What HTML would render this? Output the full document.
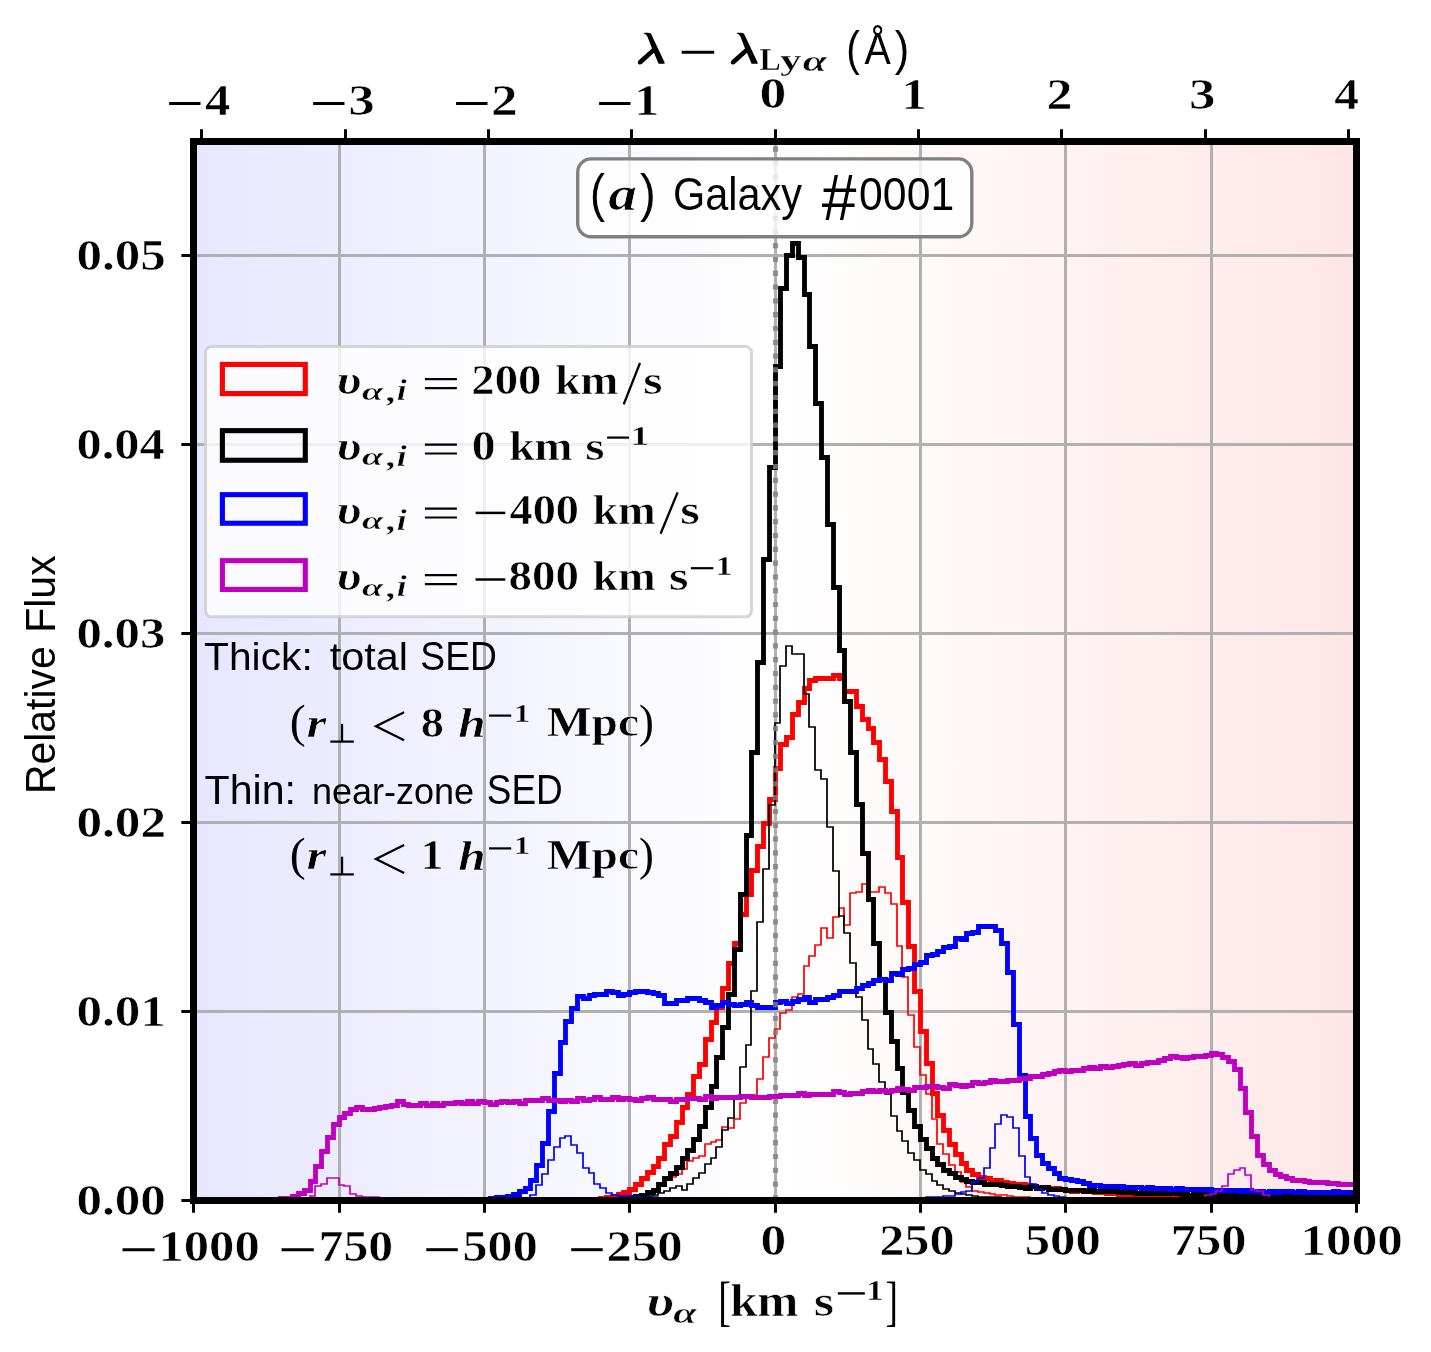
<!DOCTYPE html>
<html><head><meta charset="utf-8"><title>chart</title>
<style>html,body{margin:0;padding:0;background:#fff}svg{display:block}text{fill:#000}</style></head><body>
<svg width="1431" height="1352" viewBox="0 0 1431 1352">
<defs><linearGradient id="bg" x1="0" x2="1" y1="0" y2="0"><stop offset="0" stop-color="#e6e6ff"/><stop offset="0.5" stop-color="#ffffff"/><stop offset="1" stop-color="#ffe6e6"/></linearGradient>
<clipPath id="ax"><rect x="193.5" y="141.5" width="1163.0" height="1059.0"/></clipPath></defs>
<rect x="0" y="0" width="1431" height="1352" fill="#fff"/>
<rect x="193.5" y="141.5" width="1163.0" height="1059.0" fill="url(#bg)"/>
<path d="M339.50,141.5 V1200.5 M484.50,141.5 V1200.5 M629.50,141.5 V1200.5 M775.50,141.5 V1200.5 M920.50,141.5 V1200.5 M1065.50,141.5 V1200.5 M1211.50,141.5 V1200.5 M193.5,1011.50 H1356.5 M193.5,822.50 H1356.5 M193.5,633.50 H1356.5 M193.5,444.50 H1356.5 M193.5,255.50 H1356.5" stroke="#b0b0b0" stroke-width="3" fill="none"/>
<g clip-path="url(#ax)" fill="none" stroke-linejoin="miter" stroke-linecap="butt">
<path d="M193.50,1200.50 L193.50,1200.50 L199.50,1200.50 L199.50,1200.50 L205.50,1200.50 L205.50,1200.50 L211.50,1200.50 L211.50,1200.50 L217.50,1200.50 L217.50,1200.50 L222.50,1200.50 L222.50,1200.50 L228.50,1200.50 L228.50,1200.50 L234.50,1200.50 L234.50,1200.50 L240.50,1200.50 L240.50,1200.50 L246.50,1200.50 L246.50,1200.50 L251.50,1200.50 L251.50,1200.50 L257.50,1200.50 L257.50,1200.50 L263.50,1200.50 L263.50,1200.50 L269.50,1200.50 L269.50,1200.50 L275.50,1200.50 L275.50,1200.50 L280.50,1200.50 L280.50,1200.50 L286.50,1200.50 L286.50,1200.50 L292.50,1200.50 L292.50,1200.50 L298.50,1200.50 L298.50,1200.50 L304.50,1200.50 L304.50,1200.50 L310.50,1200.50 L310.50,1200.50 L315.50,1200.50 L315.50,1200.50 L321.50,1200.50 L321.50,1200.50 L327.50,1200.50 L327.50,1200.50 L333.50,1200.50 L333.50,1200.50 L339.50,1200.50 L339.50,1200.50 L344.50,1200.50 L344.50,1200.50 L350.50,1200.50 L350.50,1200.50 L356.50,1200.50 L356.50,1200.50 L362.50,1200.50 L362.50,1200.50 L368.50,1200.50 L368.50,1200.50 L374.50,1200.50 L374.50,1200.50 L379.50,1200.50 L379.50,1200.50 L385.50,1200.50 L385.50,1200.50 L391.50,1200.50 L391.50,1200.50 L397.50,1200.50 L397.50,1200.50 L403.50,1200.50 L403.50,1200.50 L408.50,1200.50 L408.50,1200.50 L414.50,1200.50 L414.50,1200.50 L420.50,1200.50 L420.50,1200.50 L426.50,1200.50 L426.50,1200.50 L432.50,1200.50 L432.50,1200.50 L437.50,1200.50 L437.50,1200.50 L443.50,1200.50 L443.50,1200.50 L449.50,1200.50 L449.50,1200.50 L455.50,1200.50 L455.50,1200.50 L461.50,1200.50 L461.50,1200.50 L467.50,1200.50 L467.50,1200.50 L472.50,1200.50 L472.50,1200.50 L478.50,1200.50 L478.50,1200.50 L484.50,1200.50 L484.50,1200.50 L490.50,1200.50 L490.50,1200.50 L496.50,1200.50 L496.50,1200.50 L501.50,1200.50 L501.50,1200.50 L507.50,1200.50 L507.50,1200.50 L513.50,1200.50 L513.50,1200.50 L519.50,1200.50 L519.50,1200.50 L525.50,1200.50 L525.50,1200.50 L530.50,1200.50 L530.50,1200.50 L536.50,1200.50 L536.50,1200.50 L542.50,1200.50 L542.50,1200.50 L548.50,1200.50 L548.50,1200.50 L554.50,1200.50 L554.50,1200.50 L560.50,1200.50 L560.50,1200.50 L565.50,1200.50 L565.50,1200.50 L571.50,1200.50 L571.50,1200.50 L577.50,1200.50 L577.50,1200.50 L583.50,1200.50 L583.50,1200.50 L589.50,1200.50 L589.50,1200.50 L594.50,1200.50 L594.50,1199.50 L600.50,1199.50 L600.50,1198.50 L606.50,1198.50 L606.50,1197.50 L612.50,1197.50 L612.50,1196.50 L618.50,1196.50 L618.50,1194.50 L623.50,1194.50 L623.50,1192.50 L629.50,1192.50 L629.50,1189.50 L635.50,1189.50 L635.50,1184.50 L641.50,1184.50 L641.50,1178.50 L647.50,1178.50 L647.50,1172.50 L653.50,1172.50 L653.50,1166.50 L658.50,1166.50 L658.50,1158.50 L664.50,1158.50 L664.50,1144.50 L670.50,1144.50 L670.50,1136.50 L676.50,1136.50 L676.50,1122.50 L682.50,1122.50 L682.50,1107.50 L687.50,1107.50 L687.50,1094.50 L693.50,1094.50 L693.50,1076.50 L699.50,1076.50 L699.50,1064.50 L705.50,1064.50 L705.50,1039.50 L711.50,1039.50 L711.50,1022.50 L716.50,1022.50 L716.50,1007.50 L722.50,1007.50 L722.50,988.50 L728.50,988.50 L728.50,963.50 L734.50,963.50 L734.50,943.50 L740.50,943.50 L740.50,914.50 L746.50,914.50 L746.50,894.50 L751.50,894.50 L751.50,870.50 L757.50,870.50 L757.50,846.50 L763.50,846.50 L763.50,823.50 L769.50,823.50 L769.50,799.50 L775.50,799.50 L775.50,768.50 L780.50,768.50 L780.50,744.50 L786.50,744.50 L786.50,737.50 L792.50,737.50 L792.50,714.50 L798.50,714.50 L798.50,702.50 L804.50,702.50 L804.50,688.50 L809.50,688.50 L809.50,680.50 L815.50,680.50 L815.50,678.50 L821.50,678.50 L821.50,678.50 L827.50,678.50 L827.50,678.50 L833.50,678.50 L833.50,675.50 L839.50,675.50 L839.50,678.50 L844.50,678.50 L844.50,691.50 L850.50,691.50 L850.50,691.50 L856.50,691.50 L856.50,706.50 L862.50,706.50 L862.50,719.50 L868.50,719.50 L868.50,728.50 L873.50,728.50 L873.50,742.50 L879.50,742.50 L879.50,759.50 L885.50,759.50 L885.50,781.50 L891.50,781.50 L891.50,811.50 L897.50,811.50 L897.50,857.50 L902.50,857.50 L902.50,902.50 L908.50,902.50 L908.50,946.50 L914.50,946.50 L914.50,991.50 L920.50,991.50 L920.50,1031.50 L926.50,1031.50 L926.50,1063.50 L932.50,1063.50 L932.50,1093.50 L937.50,1093.50 L937.50,1115.50 L943.50,1115.50 L943.50,1130.50 L949.50,1130.50 L949.50,1144.50 L955.50,1144.50 L955.50,1154.50 L961.50,1154.50 L961.50,1163.50 L966.50,1163.50 L966.50,1170.50 L972.50,1170.50 L972.50,1174.50 L978.50,1174.50 L978.50,1177.50 L984.50,1177.50 L984.50,1178.50 L990.50,1178.50 L990.50,1180.50 L995.50,1180.50 L995.50,1180.50 L1001.50,1180.50 L1001.50,1182.50 L1007.50,1182.50 L1007.50,1183.50 L1013.50,1183.50 L1013.50,1184.50 L1019.50,1184.50 L1019.50,1184.50 L1025.50,1184.50 L1025.50,1185.50 L1030.50,1185.50 L1030.50,1186.50 L1036.50,1186.50 L1036.50,1187.50 L1042.50,1187.50 L1042.50,1187.50 L1048.50,1187.50 L1048.50,1188.50 L1054.50,1188.50 L1054.50,1188.50 L1059.50,1188.50 L1059.50,1189.50 L1065.50,1189.50 L1065.50,1190.50 L1071.50,1190.50 L1071.50,1191.50 L1077.50,1191.50 L1077.50,1190.50 L1083.50,1190.50 L1083.50,1190.50 L1089.50,1190.50 L1089.50,1191.50 L1094.50,1191.50 L1094.50,1192.50 L1100.50,1192.50 L1100.50,1192.50 L1106.50,1192.50 L1106.50,1193.50 L1112.50,1193.50 L1112.50,1193.50 L1118.50,1193.50 L1118.50,1194.50 L1123.50,1194.50 L1123.50,1194.50 L1129.50,1194.50 L1129.50,1195.50 L1135.50,1195.50 L1135.50,1195.50 L1141.50,1195.50 L1141.50,1195.50 L1147.50,1195.50 L1147.50,1195.50 L1152.50,1195.50 L1152.50,1195.50 L1158.50,1195.50 L1158.50,1195.50 L1164.50,1195.50 L1164.50,1196.50 L1170.50,1196.50 L1170.50,1196.50 L1176.50,1196.50 L1176.50,1196.50 L1182.50,1196.50 L1182.50,1196.50 L1187.50,1196.50 L1187.50,1196.50 L1193.50,1196.50 L1193.50,1196.50 L1199.50,1196.50 L1199.50,1197.50 L1205.50,1197.50 L1205.50,1197.50 L1211.50,1197.50 L1211.50,1197.50 L1216.50,1197.50 L1216.50,1197.50 L1222.50,1197.50 L1222.50,1197.50 L1228.50,1197.50 L1228.50,1197.50 L1234.50,1197.50 L1234.50,1197.50 L1240.50,1197.50 L1240.50,1197.50 L1245.50,1197.50 L1245.50,1197.50 L1251.50,1197.50 L1251.50,1197.50 L1257.50,1197.50 L1257.50,1197.50 L1263.50,1197.50 L1263.50,1197.50 L1269.50,1197.50 L1269.50,1197.50 L1275.50,1197.50 L1275.50,1197.50 L1280.50,1197.50 L1280.50,1198.50 L1286.50,1198.50 L1286.50,1198.50 L1292.50,1198.50 L1292.50,1198.50 L1298.50,1198.50 L1298.50,1198.50 L1304.50,1198.50 L1304.50,1198.50 L1309.50,1198.50 L1309.50,1198.50 L1315.50,1198.50 L1315.50,1198.50 L1321.50,1198.50 L1321.50,1198.50 L1327.50,1198.50 L1327.50,1198.50 L1333.50,1198.50 L1333.50,1198.50 L1338.50,1198.50 L1338.50,1198.50 L1344.50,1198.50 L1344.50,1198.50 L1350.50,1198.50 L1350.50,1198.50 L1356.50,1198.50 L1356.50,1200.50" stroke="#ff0000" stroke-width="4.86"/>
<path d="M193.00,1200.00 L193.00,1200.00 L199.00,1200.00 L199.00,1200.00 L205.00,1200.00 L205.00,1200.00 L211.00,1200.00 L211.00,1200.00 L217.00,1200.00 L217.00,1200.00 L222.00,1200.00 L222.00,1200.00 L228.00,1200.00 L228.00,1200.00 L234.00,1200.00 L234.00,1200.00 L240.00,1200.00 L240.00,1200.00 L246.00,1200.00 L246.00,1200.00 L251.00,1200.00 L251.00,1200.00 L257.00,1200.00 L257.00,1200.00 L263.00,1200.00 L263.00,1200.00 L269.00,1200.00 L269.00,1200.00 L275.00,1200.00 L275.00,1200.00 L280.00,1200.00 L280.00,1200.00 L286.00,1200.00 L286.00,1200.00 L292.00,1200.00 L292.00,1200.00 L298.00,1200.00 L298.00,1200.00 L304.00,1200.00 L304.00,1200.00 L310.00,1200.00 L310.00,1200.00 L315.00,1200.00 L315.00,1200.00 L321.00,1200.00 L321.00,1200.00 L327.00,1200.00 L327.00,1200.00 L333.00,1200.00 L333.00,1200.00 L339.00,1200.00 L339.00,1200.00 L344.00,1200.00 L344.00,1200.00 L350.00,1200.00 L350.00,1200.00 L356.00,1200.00 L356.00,1200.00 L362.00,1200.00 L362.00,1200.00 L368.00,1200.00 L368.00,1200.00 L374.00,1200.00 L374.00,1200.00 L379.00,1200.00 L379.00,1200.00 L385.00,1200.00 L385.00,1200.00 L391.00,1200.00 L391.00,1200.00 L397.00,1200.00 L397.00,1200.00 L403.00,1200.00 L403.00,1200.00 L408.00,1200.00 L408.00,1200.00 L414.00,1200.00 L414.00,1200.00 L420.00,1200.00 L420.00,1200.00 L426.00,1200.00 L426.00,1200.00 L432.00,1200.00 L432.00,1200.00 L437.00,1200.00 L437.00,1200.00 L443.00,1200.00 L443.00,1200.00 L449.00,1200.00 L449.00,1200.00 L455.00,1200.00 L455.00,1200.00 L461.00,1200.00 L461.00,1200.00 L467.00,1200.00 L467.00,1200.00 L472.00,1200.00 L472.00,1200.00 L478.00,1200.00 L478.00,1200.00 L484.00,1200.00 L484.00,1200.00 L490.00,1200.00 L490.00,1200.00 L496.00,1200.00 L496.00,1200.00 L501.00,1200.00 L501.00,1200.00 L507.00,1200.00 L507.00,1200.00 L513.00,1200.00 L513.00,1200.00 L519.00,1200.00 L519.00,1200.00 L525.00,1200.00 L525.00,1200.00 L530.00,1200.00 L530.00,1200.00 L536.00,1200.00 L536.00,1200.00 L542.00,1200.00 L542.00,1200.00 L548.00,1200.00 L548.00,1200.00 L554.00,1200.00 L554.00,1200.00 L560.00,1200.00 L560.00,1200.00 L565.00,1200.00 L565.00,1200.00 L571.00,1200.00 L571.00,1200.00 L577.00,1200.00 L577.00,1200.00 L583.00,1200.00 L583.00,1200.00 L589.00,1200.00 L589.00,1200.00 L594.00,1200.00 L594.00,1200.00 L600.00,1200.00 L600.00,1200.00 L606.00,1200.00 L606.00,1200.00 L612.00,1200.00 L612.00,1199.00 L618.00,1199.00 L618.00,1199.00 L623.00,1199.00 L623.00,1198.00 L629.00,1198.00 L629.00,1197.00 L635.00,1197.00 L635.00,1196.00 L641.00,1196.00 L641.00,1195.00 L647.00,1195.00 L647.00,1191.00 L653.00,1191.00 L653.00,1189.00 L658.00,1189.00 L658.00,1184.00 L664.00,1184.00 L664.00,1180.00 L670.00,1180.00 L670.00,1177.00 L676.00,1177.00 L676.00,1174.00 L682.00,1174.00 L682.00,1169.00 L687.00,1169.00 L687.00,1161.00 L693.00,1161.00 L693.00,1158.00 L699.00,1158.00 L699.00,1156.00 L705.00,1156.00 L705.00,1144.00 L711.00,1144.00 L711.00,1142.00 L716.00,1142.00 L716.00,1140.00 L722.00,1140.00 L722.00,1127.00 L728.00,1127.00 L728.00,1128.00 L734.00,1128.00 L734.00,1119.00 L740.00,1119.00 L740.00,1103.00 L746.00,1103.00 L746.00,1097.00 L751.00,1097.00 L751.00,1095.00 L757.00,1095.00 L757.00,1079.00 L763.00,1079.00 L763.00,1057.00 L769.00,1057.00 L769.00,1038.00 L775.00,1038.00 L775.00,1029.00 L780.00,1029.00 L780.00,1013.00 L786.00,1013.00 L786.00,1010.00 L792.00,1010.00 L792.00,997.00 L798.00,997.00 L798.00,994.00 L804.00,994.00 L804.00,966.00 L809.00,966.00 L809.00,956.00 L815.00,956.00 L815.00,945.00 L821.00,945.00 L821.00,928.00 L827.00,928.00 L827.00,938.00 L833.00,938.00 L833.00,917.00 L839.00,917.00 L839.00,908.00 L844.00,908.00 L844.00,925.00 L850.00,925.00 L850.00,893.00 L856.00,893.00 L856.00,892.00 L862.00,892.00 L862.00,884.00 L868.00,884.00 L868.00,892.00 L873.00,892.00 L873.00,892.00 L879.00,892.00 L879.00,887.00 L885.00,887.00 L885.00,893.00 L891.00,893.00 L891.00,904.00 L897.00,904.00 L897.00,946.00 L902.00,946.00 L902.00,977.00 L908.00,977.00 L908.00,1015.00 L914.00,1015.00 L914.00,1047.00 L920.00,1047.00 L920.00,1075.00 L926.00,1075.00 L926.00,1094.00 L932.00,1094.00 L932.00,1119.00 L937.00,1119.00 L937.00,1144.00 L943.00,1144.00 L943.00,1154.00 L949.00,1154.00 L949.00,1165.00 L955.00,1165.00 L955.00,1172.00 L961.00,1172.00 L961.00,1182.00 L966.00,1182.00 L966.00,1187.00 L972.00,1187.00 L972.00,1191.00 L978.00,1191.00 L978.00,1192.00 L984.00,1192.00 L984.00,1193.00 L990.00,1193.00 L990.00,1194.00 L995.00,1194.00 L995.00,1195.00 L1001.00,1195.00 L1001.00,1195.00 L1007.00,1195.00 L1007.00,1196.00 L1013.00,1196.00 L1013.00,1197.00 L1019.00,1197.00 L1019.00,1197.00 L1025.00,1197.00 L1025.00,1197.00 L1030.00,1197.00 L1030.00,1198.00 L1036.00,1198.00 L1036.00,1198.00 L1042.00,1198.00 L1042.00,1198.00 L1048.00,1198.00 L1048.00,1199.00 L1054.00,1199.00 L1054.00,1199.00 L1059.00,1199.00 L1059.00,1199.00 L1065.00,1199.00 L1065.00,1199.00 L1071.00,1199.00 L1071.00,1200.00 L1077.00,1200.00 L1077.00,1200.00 L1083.00,1200.00 L1083.00,1200.00 L1089.00,1200.00 L1089.00,1200.00 L1094.00,1200.00 L1094.00,1200.00 L1100.00,1200.00 L1100.00,1200.00 L1106.00,1200.00 L1106.00,1200.00 L1112.00,1200.00 L1112.00,1200.00 L1118.00,1200.00 L1118.00,1200.00 L1123.00,1200.00 L1123.00,1200.00 L1129.00,1200.00 L1129.00,1200.00 L1135.00,1200.00 L1135.00,1200.00 L1141.00,1200.00 L1141.00,1200.00 L1147.00,1200.00 L1147.00,1200.00 L1152.00,1200.00 L1152.00,1200.00 L1158.00,1200.00 L1158.00,1200.00 L1164.00,1200.00 L1164.00,1200.00 L1170.00,1200.00 L1170.00,1200.00 L1176.00,1200.00 L1176.00,1200.00 L1182.00,1200.00 L1182.00,1200.00 L1187.00,1200.00 L1187.00,1200.00 L1193.00,1200.00 L1193.00,1200.00 L1199.00,1200.00 L1199.00,1200.00 L1205.00,1200.00 L1205.00,1200.00 L1211.00,1200.00 L1211.00,1200.00 L1216.00,1200.00 L1216.00,1200.00 L1222.00,1200.00 L1222.00,1200.00 L1228.00,1200.00 L1228.00,1200.00 L1234.00,1200.00 L1234.00,1200.00 L1240.00,1200.00 L1240.00,1200.00 L1245.00,1200.00 L1245.00,1200.00 L1251.00,1200.00 L1251.00,1200.00 L1257.00,1200.00 L1257.00,1200.00 L1263.00,1200.00 L1263.00,1200.00 L1269.00,1200.00 L1269.00,1200.00 L1275.00,1200.00 L1275.00,1200.00 L1280.00,1200.00 L1280.00,1200.00 L1286.00,1200.00 L1286.00,1200.00 L1292.00,1200.00 L1292.00,1200.00 L1298.00,1200.00 L1298.00,1200.00 L1304.00,1200.00 L1304.00,1200.00 L1309.00,1200.00 L1309.00,1200.00 L1315.00,1200.00 L1315.00,1200.00 L1321.00,1200.00 L1321.00,1200.00 L1327.00,1200.00 L1327.00,1200.00 L1333.00,1200.00 L1333.00,1200.00 L1338.00,1200.00 L1338.00,1200.00 L1344.00,1200.00 L1344.00,1200.00 L1350.00,1200.00 L1350.00,1200.00 L1356.00,1200.00 L1356.00,1200.00" stroke="#ff0000" stroke-width="1.74"/>
<path d="M193.50,1200.50 L193.50,1200.50 L199.50,1200.50 L199.50,1200.50 L205.50,1200.50 L205.50,1200.50 L211.50,1200.50 L211.50,1200.50 L217.50,1200.50 L217.50,1200.50 L222.50,1200.50 L222.50,1200.50 L228.50,1200.50 L228.50,1200.50 L234.50,1200.50 L234.50,1200.50 L240.50,1200.50 L240.50,1200.50 L246.50,1200.50 L246.50,1200.50 L251.50,1200.50 L251.50,1200.50 L257.50,1200.50 L257.50,1200.50 L263.50,1200.50 L263.50,1200.50 L269.50,1200.50 L269.50,1200.50 L275.50,1200.50 L275.50,1200.50 L280.50,1200.50 L280.50,1200.50 L286.50,1200.50 L286.50,1200.50 L292.50,1200.50 L292.50,1200.50 L298.50,1200.50 L298.50,1200.50 L304.50,1200.50 L304.50,1200.50 L310.50,1200.50 L310.50,1200.50 L315.50,1200.50 L315.50,1200.50 L321.50,1200.50 L321.50,1200.50 L327.50,1200.50 L327.50,1200.50 L333.50,1200.50 L333.50,1200.50 L339.50,1200.50 L339.50,1200.50 L344.50,1200.50 L344.50,1200.50 L350.50,1200.50 L350.50,1200.50 L356.50,1200.50 L356.50,1200.50 L362.50,1200.50 L362.50,1200.50 L368.50,1200.50 L368.50,1200.50 L374.50,1200.50 L374.50,1200.50 L379.50,1200.50 L379.50,1200.50 L385.50,1200.50 L385.50,1200.50 L391.50,1200.50 L391.50,1200.50 L397.50,1200.50 L397.50,1200.50 L403.50,1200.50 L403.50,1200.50 L408.50,1200.50 L408.50,1200.50 L414.50,1200.50 L414.50,1200.50 L420.50,1200.50 L420.50,1200.50 L426.50,1200.50 L426.50,1200.50 L432.50,1200.50 L432.50,1200.50 L437.50,1200.50 L437.50,1200.50 L443.50,1200.50 L443.50,1200.50 L449.50,1200.50 L449.50,1200.50 L455.50,1200.50 L455.50,1200.50 L461.50,1200.50 L461.50,1200.50 L467.50,1200.50 L467.50,1200.50 L472.50,1200.50 L472.50,1200.50 L478.50,1200.50 L478.50,1200.50 L484.50,1200.50 L484.50,1200.50 L490.50,1200.50 L490.50,1200.50 L496.50,1200.50 L496.50,1200.50 L501.50,1200.50 L501.50,1200.50 L507.50,1200.50 L507.50,1200.50 L513.50,1200.50 L513.50,1200.50 L519.50,1200.50 L519.50,1200.50 L525.50,1200.50 L525.50,1200.50 L530.50,1200.50 L530.50,1200.50 L536.50,1200.50 L536.50,1200.50 L542.50,1200.50 L542.50,1200.50 L548.50,1200.50 L548.50,1200.50 L554.50,1200.50 L554.50,1200.50 L560.50,1200.50 L560.50,1200.50 L565.50,1200.50 L565.50,1200.50 L571.50,1200.50 L571.50,1200.50 L577.50,1200.50 L577.50,1200.50 L583.50,1200.50 L583.50,1200.50 L589.50,1200.50 L589.50,1200.50 L594.50,1200.50 L594.50,1200.50 L600.50,1200.50 L600.50,1200.50 L606.50,1200.50 L606.50,1200.50 L612.50,1200.50 L612.50,1199.50 L618.50,1199.50 L618.50,1199.50 L623.50,1199.50 L623.50,1198.50 L629.50,1198.50 L629.50,1197.50 L635.50,1197.50 L635.50,1196.50 L641.50,1196.50 L641.50,1195.50 L647.50,1195.50 L647.50,1192.50 L653.50,1192.50 L653.50,1190.50 L658.50,1190.50 L658.50,1184.50 L664.50,1184.50 L664.50,1178.50 L670.50,1178.50 L670.50,1173.50 L676.50,1173.50 L676.50,1167.50 L682.50,1167.50 L682.50,1158.50 L687.50,1158.50 L687.50,1150.50 L693.50,1150.50 L693.50,1139.50 L699.50,1139.50 L699.50,1126.50 L705.50,1126.50 L705.50,1107.50 L711.50,1107.50 L711.50,1086.50 L716.50,1086.50 L716.50,1057.50 L722.50,1057.50 L722.50,1027.50 L728.50,1027.50 L728.50,994.50 L734.50,994.50 L734.50,949.50 L740.50,949.50 L740.50,894.50 L746.50,894.50 L746.50,835.50 L751.50,835.50 L751.50,752.50 L757.50,752.50 L757.50,662.50 L763.50,662.50 L763.50,559.50 L769.50,559.50 L769.50,467.50 L775.50,467.50 L775.50,366.50 L780.50,366.50 L780.50,288.50 L786.50,288.50 L786.50,255.50 L792.50,255.50 L792.50,243.50 L798.50,243.50 L798.50,257.50 L804.50,257.50 L804.50,294.50 L809.50,294.50 L809.50,346.50 L815.50,346.50 L815.50,403.50 L821.50,403.50 L821.50,457.50 L827.50,457.50 L827.50,524.50 L833.50,524.50 L833.50,587.50 L839.50,587.50 L839.50,650.50 L844.50,650.50 L844.50,701.50 L850.50,701.50 L850.50,752.50 L856.50,752.50 L856.50,804.50 L862.50,804.50 L862.50,853.50 L868.50,853.50 L868.50,899.50 L873.50,899.50 L873.50,943.50 L879.50,943.50 L879.50,979.50 L885.50,979.50 L885.50,1012.50 L891.50,1012.50 L891.50,1041.50 L897.50,1041.50 L897.50,1068.50 L902.50,1068.50 L902.50,1092.50 L908.50,1092.50 L908.50,1110.50 L914.50,1110.50 L914.50,1126.50 L920.50,1126.50 L920.50,1139.50 L926.50,1139.50 L926.50,1148.50 L932.50,1148.50 L932.50,1158.50 L937.50,1158.50 L937.50,1164.50 L943.50,1164.50 L943.50,1170.50 L949.50,1170.50 L949.50,1173.50 L955.50,1173.50 L955.50,1177.50 L961.50,1177.50 L961.50,1179.50 L966.50,1179.50 L966.50,1181.50 L972.50,1181.50 L972.50,1182.50 L978.50,1182.50 L978.50,1182.50 L984.50,1182.50 L984.50,1184.50 L990.50,1184.50 L990.50,1184.50 L995.50,1184.50 L995.50,1184.50 L1001.50,1184.50 L1001.50,1185.50 L1007.50,1185.50 L1007.50,1186.50 L1013.50,1186.50 L1013.50,1186.50 L1019.50,1186.50 L1019.50,1187.50 L1025.50,1187.50 L1025.50,1188.50 L1030.50,1188.50 L1030.50,1186.50 L1036.50,1186.50 L1036.50,1188.50 L1042.50,1188.50 L1042.50,1187.50 L1048.50,1187.50 L1048.50,1189.50 L1054.50,1189.50 L1054.50,1189.50 L1059.50,1189.50 L1059.50,1189.50 L1065.50,1189.50 L1065.50,1190.50 L1071.50,1190.50 L1071.50,1190.50 L1077.50,1190.50 L1077.50,1190.50 L1083.50,1190.50 L1083.50,1191.50 L1089.50,1191.50 L1089.50,1190.50 L1094.50,1190.50 L1094.50,1191.50 L1100.50,1191.50 L1100.50,1191.50 L1106.50,1191.50 L1106.50,1191.50 L1112.50,1191.50 L1112.50,1191.50 L1118.50,1191.50 L1118.50,1192.50 L1123.50,1192.50 L1123.50,1192.50 L1129.50,1192.50 L1129.50,1192.50 L1135.50,1192.50 L1135.50,1193.50 L1141.50,1193.50 L1141.50,1193.50 L1147.50,1193.50 L1147.50,1193.50 L1152.50,1193.50 L1152.50,1193.50 L1158.50,1193.50 L1158.50,1193.50 L1164.50,1193.50 L1164.50,1193.50 L1170.50,1193.50 L1170.50,1192.50 L1176.50,1192.50 L1176.50,1193.50 L1182.50,1193.50 L1182.50,1194.50 L1187.50,1194.50 L1187.50,1195.50 L1193.50,1195.50 L1193.50,1194.50 L1199.50,1194.50 L1199.50,1194.50 L1205.50,1194.50 L1205.50,1194.50 L1211.50,1194.50 L1211.50,1194.50 L1216.50,1194.50 L1216.50,1194.50 L1222.50,1194.50 L1222.50,1194.50 L1228.50,1194.50 L1228.50,1194.50 L1234.50,1194.50 L1234.50,1194.50 L1240.50,1194.50 L1240.50,1194.50 L1245.50,1194.50 L1245.50,1194.50 L1251.50,1194.50 L1251.50,1194.50 L1257.50,1194.50 L1257.50,1194.50 L1263.50,1194.50 L1263.50,1195.50 L1269.50,1195.50 L1269.50,1195.50 L1275.50,1195.50 L1275.50,1195.50 L1280.50,1195.50 L1280.50,1195.50 L1286.50,1195.50 L1286.50,1195.50 L1292.50,1195.50 L1292.50,1195.50 L1298.50,1195.50 L1298.50,1195.50 L1304.50,1195.50 L1304.50,1195.50 L1309.50,1195.50 L1309.50,1195.50 L1315.50,1195.50 L1315.50,1195.50 L1321.50,1195.50 L1321.50,1195.50 L1327.50,1195.50 L1327.50,1195.50 L1333.50,1195.50 L1333.50,1195.50 L1338.50,1195.50 L1338.50,1195.50 L1344.50,1195.50 L1344.50,1195.50 L1350.50,1195.50 L1350.50,1195.50 L1356.50,1195.50 L1356.50,1200.50" stroke="#000000" stroke-width="4.86"/>
<path d="M193.00,1200.00 L193.00,1200.00 L199.00,1200.00 L199.00,1200.00 L205.00,1200.00 L205.00,1200.00 L211.00,1200.00 L211.00,1200.00 L217.00,1200.00 L217.00,1200.00 L222.00,1200.00 L222.00,1200.00 L228.00,1200.00 L228.00,1200.00 L234.00,1200.00 L234.00,1200.00 L240.00,1200.00 L240.00,1200.00 L246.00,1200.00 L246.00,1200.00 L251.00,1200.00 L251.00,1200.00 L257.00,1200.00 L257.00,1200.00 L263.00,1200.00 L263.00,1200.00 L269.00,1200.00 L269.00,1200.00 L275.00,1200.00 L275.00,1200.00 L280.00,1200.00 L280.00,1200.00 L286.00,1200.00 L286.00,1200.00 L292.00,1200.00 L292.00,1200.00 L298.00,1200.00 L298.00,1200.00 L304.00,1200.00 L304.00,1200.00 L310.00,1200.00 L310.00,1200.00 L315.00,1200.00 L315.00,1200.00 L321.00,1200.00 L321.00,1200.00 L327.00,1200.00 L327.00,1200.00 L333.00,1200.00 L333.00,1200.00 L339.00,1200.00 L339.00,1200.00 L344.00,1200.00 L344.00,1200.00 L350.00,1200.00 L350.00,1200.00 L356.00,1200.00 L356.00,1200.00 L362.00,1200.00 L362.00,1200.00 L368.00,1200.00 L368.00,1200.00 L374.00,1200.00 L374.00,1200.00 L379.00,1200.00 L379.00,1200.00 L385.00,1200.00 L385.00,1200.00 L391.00,1200.00 L391.00,1200.00 L397.00,1200.00 L397.00,1200.00 L403.00,1200.00 L403.00,1200.00 L408.00,1200.00 L408.00,1200.00 L414.00,1200.00 L414.00,1200.00 L420.00,1200.00 L420.00,1200.00 L426.00,1200.00 L426.00,1200.00 L432.00,1200.00 L432.00,1200.00 L437.00,1200.00 L437.00,1200.00 L443.00,1200.00 L443.00,1200.00 L449.00,1200.00 L449.00,1200.00 L455.00,1200.00 L455.00,1200.00 L461.00,1200.00 L461.00,1200.00 L467.00,1200.00 L467.00,1200.00 L472.00,1200.00 L472.00,1200.00 L478.00,1200.00 L478.00,1200.00 L484.00,1200.00 L484.00,1200.00 L490.00,1200.00 L490.00,1200.00 L496.00,1200.00 L496.00,1200.00 L501.00,1200.00 L501.00,1200.00 L507.00,1200.00 L507.00,1200.00 L513.00,1200.00 L513.00,1200.00 L519.00,1200.00 L519.00,1200.00 L525.00,1200.00 L525.00,1200.00 L530.00,1200.00 L530.00,1200.00 L536.00,1200.00 L536.00,1200.00 L542.00,1200.00 L542.00,1200.00 L548.00,1200.00 L548.00,1200.00 L554.00,1200.00 L554.00,1200.00 L560.00,1200.00 L560.00,1200.00 L565.00,1200.00 L565.00,1200.00 L571.00,1200.00 L571.00,1200.00 L577.00,1200.00 L577.00,1200.00 L583.00,1200.00 L583.00,1200.00 L589.00,1200.00 L589.00,1200.00 L594.00,1200.00 L594.00,1200.00 L600.00,1200.00 L600.00,1200.00 L606.00,1200.00 L606.00,1200.00 L612.00,1200.00 L612.00,1200.00 L618.00,1200.00 L618.00,1199.00 L623.00,1199.00 L623.00,1199.00 L629.00,1199.00 L629.00,1198.00 L635.00,1198.00 L635.00,1197.00 L641.00,1197.00 L641.00,1197.00 L647.00,1197.00 L647.00,1196.00 L653.00,1196.00 L653.00,1195.00 L658.00,1195.00 L658.00,1193.00 L664.00,1193.00 L664.00,1191.00 L670.00,1191.00 L670.00,1188.00 L676.00,1188.00 L676.00,1186.00 L682.00,1186.00 L682.00,1190.00 L687.00,1190.00 L687.00,1184.00 L693.00,1184.00 L693.00,1178.00 L699.00,1178.00 L699.00,1173.00 L705.00,1173.00 L705.00,1164.00 L711.00,1164.00 L711.00,1158.00 L716.00,1158.00 L716.00,1147.00 L722.00,1147.00 L722.00,1130.00 L728.00,1130.00 L728.00,1118.00 L734.00,1118.00 L734.00,1099.00 L740.00,1099.00 L740.00,1067.00 L746.00,1067.00 L746.00,1045.00 L751.00,1045.00 L751.00,991.00 L757.00,991.00 L757.00,922.00 L763.00,922.00 L763.00,869.00 L769.00,869.00 L769.00,805.00 L775.00,805.00 L775.00,723.00 L780.00,723.00 L780.00,666.00 L786.00,666.00 L786.00,646.00 L792.00,646.00 L792.00,654.00 L798.00,654.00 L798.00,654.00 L804.00,654.00 L804.00,694.00 L809.00,694.00 L809.00,727.00 L815.00,727.00 L815.00,770.00 L821.00,770.00 L821.00,779.00 L827.00,779.00 L827.00,827.00 L833.00,827.00 L833.00,871.00 L839.00,871.00 L839.00,916.00 L844.00,916.00 L844.00,933.00 L850.00,933.00 L850.00,963.00 L856.00,963.00 L856.00,997.00 L862.00,997.00 L862.00,1020.00 L868.00,1020.00 L868.00,1049.00 L873.00,1049.00 L873.00,1064.00 L879.00,1064.00 L879.00,1082.00 L885.00,1082.00 L885.00,1094.00 L891.00,1094.00 L891.00,1116.00 L897.00,1116.00 L897.00,1131.00 L902.00,1131.00 L902.00,1141.00 L908.00,1141.00 L908.00,1153.00 L914.00,1153.00 L914.00,1160.00 L920.00,1160.00 L920.00,1170.00 L926.00,1170.00 L926.00,1174.00 L932.00,1174.00 L932.00,1181.00 L937.00,1181.00 L937.00,1185.00 L943.00,1185.00 L943.00,1189.00 L949.00,1189.00 L949.00,1191.00 L955.00,1191.00 L955.00,1193.00 L961.00,1193.00 L961.00,1194.00 L966.00,1194.00 L966.00,1195.00 L972.00,1195.00 L972.00,1196.00 L978.00,1196.00 L978.00,1197.00 L984.00,1197.00 L984.00,1197.00 L990.00,1197.00 L990.00,1197.00 L995.00,1197.00 L995.00,1197.00 L1001.00,1197.00 L1001.00,1198.00 L1007.00,1198.00 L1007.00,1198.00 L1013.00,1198.00 L1013.00,1198.00 L1019.00,1198.00 L1019.00,1198.00 L1025.00,1198.00 L1025.00,1198.00 L1030.00,1198.00 L1030.00,1199.00 L1036.00,1199.00 L1036.00,1199.00 L1042.00,1199.00 L1042.00,1199.00 L1048.00,1199.00 L1048.00,1199.00 L1054.00,1199.00 L1054.00,1199.00 L1059.00,1199.00 L1059.00,1199.00 L1065.00,1199.00 L1065.00,1199.00 L1071.00,1199.00 L1071.00,1199.00 L1077.00,1199.00 L1077.00,1199.00 L1083.00,1199.00 L1083.00,1199.00 L1089.00,1199.00 L1089.00,1200.00 L1094.00,1200.00 L1094.00,1200.00 L1100.00,1200.00 L1100.00,1200.00 L1106.00,1200.00 L1106.00,1200.00 L1112.00,1200.00 L1112.00,1200.00 L1118.00,1200.00 L1118.00,1200.00 L1123.00,1200.00 L1123.00,1200.00 L1129.00,1200.00 L1129.00,1200.00 L1135.00,1200.00 L1135.00,1200.00 L1141.00,1200.00 L1141.00,1200.00 L1147.00,1200.00 L1147.00,1200.00 L1152.00,1200.00 L1152.00,1200.00 L1158.00,1200.00 L1158.00,1200.00 L1164.00,1200.00 L1164.00,1200.00 L1170.00,1200.00 L1170.00,1200.00 L1176.00,1200.00 L1176.00,1200.00 L1182.00,1200.00 L1182.00,1200.00 L1187.00,1200.00 L1187.00,1200.00 L1193.00,1200.00 L1193.00,1200.00 L1199.00,1200.00 L1199.00,1200.00 L1205.00,1200.00 L1205.00,1200.00 L1211.00,1200.00 L1211.00,1200.00 L1216.00,1200.00 L1216.00,1200.00 L1222.00,1200.00 L1222.00,1200.00 L1228.00,1200.00 L1228.00,1200.00 L1234.00,1200.00 L1234.00,1200.00 L1240.00,1200.00 L1240.00,1200.00 L1245.00,1200.00 L1245.00,1200.00 L1251.00,1200.00 L1251.00,1200.00 L1257.00,1200.00 L1257.00,1200.00 L1263.00,1200.00 L1263.00,1200.00 L1269.00,1200.00 L1269.00,1200.00 L1275.00,1200.00 L1275.00,1200.00 L1280.00,1200.00 L1280.00,1200.00 L1286.00,1200.00 L1286.00,1200.00 L1292.00,1200.00 L1292.00,1200.00 L1298.00,1200.00 L1298.00,1200.00 L1304.00,1200.00 L1304.00,1200.00 L1309.00,1200.00 L1309.00,1200.00 L1315.00,1200.00 L1315.00,1200.00 L1321.00,1200.00 L1321.00,1200.00 L1327.00,1200.00 L1327.00,1200.00 L1333.00,1200.00 L1333.00,1200.00 L1338.00,1200.00 L1338.00,1200.00 L1344.00,1200.00 L1344.00,1200.00 L1350.00,1200.00 L1350.00,1200.00 L1356.00,1200.00 L1356.00,1200.00" stroke="#000000" stroke-width="1.74"/>
<path d="M193.50,1200.50 L193.50,1200.50 L199.50,1200.50 L199.50,1200.50 L205.50,1200.50 L205.50,1200.50 L211.50,1200.50 L211.50,1200.50 L217.50,1200.50 L217.50,1200.50 L222.50,1200.50 L222.50,1200.50 L228.50,1200.50 L228.50,1200.50 L234.50,1200.50 L234.50,1200.50 L240.50,1200.50 L240.50,1200.50 L246.50,1200.50 L246.50,1200.50 L251.50,1200.50 L251.50,1200.50 L257.50,1200.50 L257.50,1200.50 L263.50,1200.50 L263.50,1200.50 L269.50,1200.50 L269.50,1200.50 L275.50,1200.50 L275.50,1200.50 L280.50,1200.50 L280.50,1200.50 L286.50,1200.50 L286.50,1200.50 L292.50,1200.50 L292.50,1200.50 L298.50,1200.50 L298.50,1200.50 L304.50,1200.50 L304.50,1200.50 L310.50,1200.50 L310.50,1200.50 L315.50,1200.50 L315.50,1200.50 L321.50,1200.50 L321.50,1200.50 L327.50,1200.50 L327.50,1200.50 L333.50,1200.50 L333.50,1200.50 L339.50,1200.50 L339.50,1200.50 L344.50,1200.50 L344.50,1200.50 L350.50,1200.50 L350.50,1200.50 L356.50,1200.50 L356.50,1200.50 L362.50,1200.50 L362.50,1200.50 L368.50,1200.50 L368.50,1200.50 L374.50,1200.50 L374.50,1200.50 L379.50,1200.50 L379.50,1200.50 L385.50,1200.50 L385.50,1200.50 L391.50,1200.50 L391.50,1200.50 L397.50,1200.50 L397.50,1200.50 L403.50,1200.50 L403.50,1200.50 L408.50,1200.50 L408.50,1200.50 L414.50,1200.50 L414.50,1200.50 L420.50,1200.50 L420.50,1200.50 L426.50,1200.50 L426.50,1200.50 L432.50,1200.50 L432.50,1200.50 L437.50,1200.50 L437.50,1200.50 L443.50,1200.50 L443.50,1200.50 L449.50,1200.50 L449.50,1200.50 L455.50,1200.50 L455.50,1200.50 L461.50,1200.50 L461.50,1200.50 L467.50,1200.50 L467.50,1200.50 L472.50,1200.50 L472.50,1200.50 L478.50,1200.50 L478.50,1199.50 L484.50,1199.50 L484.50,1199.50 L490.50,1199.50 L490.50,1198.50 L496.50,1198.50 L496.50,1197.50 L501.50,1197.50 L501.50,1197.50 L507.50,1197.50 L507.50,1196.50 L513.50,1196.50 L513.50,1194.50 L519.50,1194.50 L519.50,1191.50 L525.50,1191.50 L525.50,1188.50 L530.50,1188.50 L530.50,1180.50 L536.50,1180.50 L536.50,1165.50 L542.50,1165.50 L542.50,1143.50 L548.50,1143.50 L548.50,1111.50 L554.50,1111.50 L554.50,1073.50 L560.50,1073.50 L560.50,1042.50 L565.50,1042.50 L565.50,1021.50 L571.50,1021.50 L571.50,1008.50 L577.50,1008.50 L577.50,996.50 L583.50,996.50 L583.50,998.50 L589.50,998.50 L589.50,995.50 L594.50,995.50 L594.50,994.50 L600.50,994.50 L600.50,994.50 L606.50,994.50 L606.50,991.50 L612.50,991.50 L612.50,992.50 L618.50,992.50 L618.50,995.50 L623.50,995.50 L623.50,994.50 L629.50,994.50 L629.50,992.50 L635.50,992.50 L635.50,991.50 L641.50,991.50 L641.50,991.50 L647.50,991.50 L647.50,992.50 L653.50,992.50 L653.50,993.50 L658.50,993.50 L658.50,995.50 L664.50,995.50 L664.50,1003.50 L670.50,1003.50 L670.50,1003.50 L676.50,1003.50 L676.50,1000.50 L682.50,1000.50 L682.50,1000.50 L687.50,1000.50 L687.50,998.50 L693.50,998.50 L693.50,998.50 L699.50,998.50 L699.50,1000.50 L705.50,1000.50 L705.50,1002.50 L711.50,1002.50 L711.50,1007.50 L716.50,1007.50 L716.50,1005.50 L722.50,1005.50 L722.50,1002.50 L728.50,1002.50 L728.50,1004.50 L734.50,1004.50 L734.50,1005.50 L740.50,1005.50 L740.50,1004.50 L746.50,1004.50 L746.50,1002.50 L751.50,1002.50 L751.50,1005.50 L757.50,1005.50 L757.50,1007.50 L763.50,1007.50 L763.50,1007.50 L769.50,1007.50 L769.50,1007.50 L775.50,1007.50 L775.50,1002.50 L780.50,1002.50 L780.50,1001.50 L786.50,1001.50 L786.50,1003.50 L792.50,1003.50 L792.50,1001.50 L798.50,1001.50 L798.50,999.50 L804.50,999.50 L804.50,997.50 L809.50,997.50 L809.50,1002.50 L815.50,1002.50 L815.50,999.50 L821.50,999.50 L821.50,999.50 L827.50,999.50 L827.50,997.50 L833.50,997.50 L833.50,995.50 L839.50,995.50 L839.50,991.50 L844.50,991.50 L844.50,991.50 L850.50,991.50 L850.50,991.50 L856.50,991.50 L856.50,988.50 L862.50,988.50 L862.50,985.50 L868.50,985.50 L868.50,983.50 L873.50,983.50 L873.50,980.50 L879.50,980.50 L879.50,979.50 L885.50,979.50 L885.50,980.50 L891.50,980.50 L891.50,973.50 L897.50,973.50 L897.50,974.50 L902.50,974.50 L902.50,969.50 L908.50,969.50 L908.50,968.50 L914.50,968.50 L914.50,964.50 L920.50,964.50 L920.50,962.50 L926.50,962.50 L926.50,955.50 L932.50,955.50 L932.50,954.50 L937.50,954.50 L937.50,951.50 L943.50,951.50 L943.50,947.50 L949.50,947.50 L949.50,946.50 L955.50,946.50 L955.50,938.50 L961.50,938.50 L961.50,939.50 L966.50,939.50 L966.50,933.50 L972.50,933.50 L972.50,932.50 L978.50,932.50 L978.50,926.50 L984.50,926.50 L984.50,926.50 L990.50,926.50 L990.50,926.50 L995.50,926.50 L995.50,930.50 L1001.50,930.50 L1001.50,943.50 L1007.50,943.50 L1007.50,972.50 L1013.50,972.50 L1013.50,1024.50 L1019.50,1024.50 L1019.50,1075.50 L1025.50,1075.50 L1025.50,1116.50 L1030.50,1116.50 L1030.50,1138.50 L1036.50,1138.50 L1036.50,1155.50 L1042.50,1155.50 L1042.50,1163.50 L1048.50,1163.50 L1048.50,1168.50 L1054.50,1168.50 L1054.50,1173.50 L1059.50,1173.50 L1059.50,1178.50 L1065.50,1178.50 L1065.50,1179.50 L1071.50,1179.50 L1071.50,1180.50 L1077.50,1180.50 L1077.50,1181.50 L1083.50,1181.50 L1083.50,1183.50 L1089.50,1183.50 L1089.50,1185.50 L1094.50,1185.50 L1094.50,1185.50 L1100.50,1185.50 L1100.50,1186.50 L1106.50,1186.50 L1106.50,1186.50 L1112.50,1186.50 L1112.50,1186.50 L1118.50,1186.50 L1118.50,1186.50 L1123.50,1186.50 L1123.50,1187.50 L1129.50,1187.50 L1129.50,1187.50 L1135.50,1187.50 L1135.50,1187.50 L1141.50,1187.50 L1141.50,1188.50 L1147.50,1188.50 L1147.50,1187.50 L1152.50,1187.50 L1152.50,1188.50 L1158.50,1188.50 L1158.50,1188.50 L1164.50,1188.50 L1164.50,1188.50 L1170.50,1188.50 L1170.50,1189.50 L1176.50,1189.50 L1176.50,1188.50 L1182.50,1188.50 L1182.50,1189.50 L1187.50,1189.50 L1187.50,1189.50 L1193.50,1189.50 L1193.50,1189.50 L1199.50,1189.50 L1199.50,1189.50 L1205.50,1189.50 L1205.50,1189.50 L1211.50,1189.50 L1211.50,1190.50 L1216.50,1190.50 L1216.50,1190.50 L1222.50,1190.50 L1222.50,1190.50 L1228.50,1190.50 L1228.50,1190.50 L1234.50,1190.50 L1234.50,1190.50 L1240.50,1190.50 L1240.50,1191.50 L1245.50,1191.50 L1245.50,1190.50 L1251.50,1190.50 L1251.50,1191.50 L1257.50,1191.50 L1257.50,1191.50 L1263.50,1191.50 L1263.50,1192.50 L1269.50,1192.50 L1269.50,1191.50 L1275.50,1191.50 L1275.50,1192.50 L1280.50,1192.50 L1280.50,1191.50 L1286.50,1191.50 L1286.50,1191.50 L1292.50,1191.50 L1292.50,1192.50 L1298.50,1192.50 L1298.50,1191.50 L1304.50,1191.50 L1304.50,1192.50 L1309.50,1192.50 L1309.50,1192.50 L1315.50,1192.50 L1315.50,1192.50 L1321.50,1192.50 L1321.50,1192.50 L1327.50,1192.50 L1327.50,1192.50 L1333.50,1192.50 L1333.50,1191.50 L1338.50,1191.50 L1338.50,1192.50 L1344.50,1192.50 L1344.50,1192.50 L1350.50,1192.50 L1350.50,1192.50 L1356.50,1192.50 L1356.50,1200.50" stroke="#0000ff" stroke-width="4.86"/>
<path d="M193.00,1200.00 L193.00,1200.00 L199.00,1200.00 L199.00,1200.00 L205.00,1200.00 L205.00,1200.00 L211.00,1200.00 L211.00,1200.00 L217.00,1200.00 L217.00,1200.00 L222.00,1200.00 L222.00,1200.00 L228.00,1200.00 L228.00,1200.00 L234.00,1200.00 L234.00,1200.00 L240.00,1200.00 L240.00,1200.00 L246.00,1200.00 L246.00,1200.00 L251.00,1200.00 L251.00,1200.00 L257.00,1200.00 L257.00,1200.00 L263.00,1200.00 L263.00,1200.00 L269.00,1200.00 L269.00,1200.00 L275.00,1200.00 L275.00,1200.00 L280.00,1200.00 L280.00,1200.00 L286.00,1200.00 L286.00,1200.00 L292.00,1200.00 L292.00,1200.00 L298.00,1200.00 L298.00,1200.00 L304.00,1200.00 L304.00,1200.00 L310.00,1200.00 L310.00,1200.00 L315.00,1200.00 L315.00,1200.00 L321.00,1200.00 L321.00,1200.00 L327.00,1200.00 L327.00,1200.00 L333.00,1200.00 L333.00,1200.00 L339.00,1200.00 L339.00,1200.00 L344.00,1200.00 L344.00,1200.00 L350.00,1200.00 L350.00,1200.00 L356.00,1200.00 L356.00,1200.00 L362.00,1200.00 L362.00,1200.00 L368.00,1200.00 L368.00,1200.00 L374.00,1200.00 L374.00,1200.00 L379.00,1200.00 L379.00,1200.00 L385.00,1200.00 L385.00,1200.00 L391.00,1200.00 L391.00,1200.00 L397.00,1200.00 L397.00,1200.00 L403.00,1200.00 L403.00,1200.00 L408.00,1200.00 L408.00,1200.00 L414.00,1200.00 L414.00,1200.00 L420.00,1200.00 L420.00,1200.00 L426.00,1200.00 L426.00,1200.00 L432.00,1200.00 L432.00,1200.00 L437.00,1200.00 L437.00,1200.00 L443.00,1200.00 L443.00,1200.00 L449.00,1200.00 L449.00,1200.00 L455.00,1200.00 L455.00,1200.00 L461.00,1200.00 L461.00,1200.00 L467.00,1200.00 L467.00,1200.00 L472.00,1200.00 L472.00,1200.00 L478.00,1200.00 L478.00,1200.00 L484.00,1200.00 L484.00,1200.00 L490.00,1200.00 L490.00,1200.00 L496.00,1200.00 L496.00,1200.00 L501.00,1200.00 L501.00,1200.00 L507.00,1200.00 L507.00,1200.00 L513.00,1200.00 L513.00,1200.00 L519.00,1200.00 L519.00,1199.00 L525.00,1199.00 L525.00,1198.00 L530.00,1198.00 L530.00,1195.00 L536.00,1195.00 L536.00,1185.00 L542.00,1185.00 L542.00,1174.00 L548.00,1174.00 L548.00,1160.00 L554.00,1160.00 L554.00,1147.00 L560.00,1147.00 L560.00,1138.00 L565.00,1138.00 L565.00,1136.00 L571.00,1136.00 L571.00,1145.00 L577.00,1145.00 L577.00,1153.00 L583.00,1153.00 L583.00,1168.00 L589.00,1168.00 L589.00,1173.00 L594.00,1173.00 L594.00,1184.00 L600.00,1184.00 L600.00,1188.00 L606.00,1188.00 L606.00,1193.00 L612.00,1193.00 L612.00,1195.00 L618.00,1195.00 L618.00,1196.00 L623.00,1196.00 L623.00,1196.00 L629.00,1196.00 L629.00,1196.00 L635.00,1196.00 L635.00,1197.00 L641.00,1197.00 L641.00,1197.00 L647.00,1197.00 L647.00,1197.00 L653.00,1197.00 L653.00,1197.00 L658.00,1197.00 L658.00,1198.00 L664.00,1198.00 L664.00,1198.00 L670.00,1198.00 L670.00,1198.00 L676.00,1198.00 L676.00,1198.00 L682.00,1198.00 L682.00,1198.00 L687.00,1198.00 L687.00,1198.00 L693.00,1198.00 L693.00,1199.00 L699.00,1199.00 L699.00,1199.00 L705.00,1199.00 L705.00,1199.00 L711.00,1199.00 L711.00,1199.00 L716.00,1199.00 L716.00,1199.00 L722.00,1199.00 L722.00,1199.00 L728.00,1199.00 L728.00,1199.00 L734.00,1199.00 L734.00,1199.00 L740.00,1199.00 L740.00,1199.00 L746.00,1199.00 L746.00,1199.00 L751.00,1199.00 L751.00,1199.00 L757.00,1199.00 L757.00,1199.00 L763.00,1199.00 L763.00,1199.00 L769.00,1199.00 L769.00,1199.00 L775.00,1199.00 L775.00,1199.00 L780.00,1199.00 L780.00,1199.00 L786.00,1199.00 L786.00,1199.00 L792.00,1199.00 L792.00,1199.00 L798.00,1199.00 L798.00,1199.00 L804.00,1199.00 L804.00,1199.00 L809.00,1199.00 L809.00,1199.00 L815.00,1199.00 L815.00,1199.00 L821.00,1199.00 L821.00,1199.00 L827.00,1199.00 L827.00,1199.00 L833.00,1199.00 L833.00,1199.00 L839.00,1199.00 L839.00,1199.00 L844.00,1199.00 L844.00,1199.00 L850.00,1199.00 L850.00,1199.00 L856.00,1199.00 L856.00,1199.00 L862.00,1199.00 L862.00,1199.00 L868.00,1199.00 L868.00,1199.00 L873.00,1199.00 L873.00,1199.00 L879.00,1199.00 L879.00,1199.00 L885.00,1199.00 L885.00,1199.00 L891.00,1199.00 L891.00,1199.00 L897.00,1199.00 L897.00,1199.00 L902.00,1199.00 L902.00,1198.00 L908.00,1198.00 L908.00,1198.00 L914.00,1198.00 L914.00,1198.00 L920.00,1198.00 L920.00,1198.00 L926.00,1198.00 L926.00,1197.00 L932.00,1197.00 L932.00,1197.00 L937.00,1197.00 L937.00,1197.00 L943.00,1197.00 L943.00,1196.00 L949.00,1196.00 L949.00,1196.00 L955.00,1196.00 L955.00,1194.00 L961.00,1194.00 L961.00,1192.00 L966.00,1192.00 L966.00,1191.00 L972.00,1191.00 L972.00,1182.00 L978.00,1182.00 L978.00,1178.00 L984.00,1178.00 L984.00,1168.00 L990.00,1168.00 L990.00,1148.00 L995.00,1148.00 L995.00,1124.00 L1001.00,1124.00 L1001.00,1115.00 L1007.00,1115.00 L1007.00,1117.00 L1013.00,1117.00 L1013.00,1128.00 L1019.00,1128.00 L1019.00,1156.00 L1025.00,1156.00 L1025.00,1177.00 L1030.00,1177.00 L1030.00,1184.00 L1036.00,1184.00 L1036.00,1189.00 L1042.00,1189.00 L1042.00,1193.00 L1048.00,1193.00 L1048.00,1195.00 L1054.00,1195.00 L1054.00,1196.00 L1059.00,1196.00 L1059.00,1197.00 L1065.00,1197.00 L1065.00,1198.00 L1071.00,1198.00 L1071.00,1198.00 L1077.00,1198.00 L1077.00,1199.00 L1083.00,1199.00 L1083.00,1199.00 L1089.00,1199.00 L1089.00,1199.00 L1094.00,1199.00 L1094.00,1199.00 L1100.00,1199.00 L1100.00,1200.00 L1106.00,1200.00 L1106.00,1200.00 L1112.00,1200.00 L1112.00,1200.00 L1118.00,1200.00 L1118.00,1200.00 L1123.00,1200.00 L1123.00,1200.00 L1129.00,1200.00 L1129.00,1200.00 L1135.00,1200.00 L1135.00,1200.00 L1141.00,1200.00 L1141.00,1200.00 L1147.00,1200.00 L1147.00,1200.00 L1152.00,1200.00 L1152.00,1200.00 L1158.00,1200.00 L1158.00,1200.00 L1164.00,1200.00 L1164.00,1200.00 L1170.00,1200.00 L1170.00,1200.00 L1176.00,1200.00 L1176.00,1200.00 L1182.00,1200.00 L1182.00,1200.00 L1187.00,1200.00 L1187.00,1200.00 L1193.00,1200.00 L1193.00,1200.00 L1199.00,1200.00 L1199.00,1200.00 L1205.00,1200.00 L1205.00,1200.00 L1211.00,1200.00 L1211.00,1200.00 L1216.00,1200.00 L1216.00,1200.00 L1222.00,1200.00 L1222.00,1200.00 L1228.00,1200.00 L1228.00,1200.00 L1234.00,1200.00 L1234.00,1200.00 L1240.00,1200.00 L1240.00,1200.00 L1245.00,1200.00 L1245.00,1200.00 L1251.00,1200.00 L1251.00,1200.00 L1257.00,1200.00 L1257.00,1200.00 L1263.00,1200.00 L1263.00,1200.00 L1269.00,1200.00 L1269.00,1200.00 L1275.00,1200.00 L1275.00,1200.00 L1280.00,1200.00 L1280.00,1200.00 L1286.00,1200.00 L1286.00,1200.00 L1292.00,1200.00 L1292.00,1200.00 L1298.00,1200.00 L1298.00,1200.00 L1304.00,1200.00 L1304.00,1200.00 L1309.00,1200.00 L1309.00,1200.00 L1315.00,1200.00 L1315.00,1200.00 L1321.00,1200.00 L1321.00,1200.00 L1327.00,1200.00 L1327.00,1200.00 L1333.00,1200.00 L1333.00,1200.00 L1338.00,1200.00 L1338.00,1200.00 L1344.00,1200.00 L1344.00,1200.00 L1350.00,1200.00 L1350.00,1200.00 L1356.00,1200.00 L1356.00,1200.00" stroke="#0000ff" stroke-width="1.74"/>
<path d="M193.50,1200.50 L193.50,1200.50 L199.50,1200.50 L199.50,1200.50 L205.50,1200.50 L205.50,1200.50 L211.50,1200.50 L211.50,1200.50 L217.50,1200.50 L217.50,1200.50 L222.50,1200.50 L222.50,1200.50 L228.50,1200.50 L228.50,1200.50 L234.50,1200.50 L234.50,1200.50 L240.50,1200.50 L240.50,1200.50 L246.50,1200.50 L246.50,1200.50 L251.50,1200.50 L251.50,1200.50 L257.50,1200.50 L257.50,1200.50 L263.50,1200.50 L263.50,1200.50 L269.50,1200.50 L269.50,1200.50 L275.50,1200.50 L275.50,1199.50 L280.50,1199.50 L280.50,1198.50 L286.50,1198.50 L286.50,1198.50 L292.50,1198.50 L292.50,1196.50 L298.50,1196.50 L298.50,1193.50 L304.50,1193.50 L304.50,1190.50 L310.50,1190.50 L310.50,1181.50 L315.50,1181.50 L315.50,1166.50 L321.50,1166.50 L321.50,1151.50 L327.50,1151.50 L327.50,1137.50 L333.50,1137.50 L333.50,1124.50 L339.50,1124.50 L339.50,1117.50 L344.50,1117.50 L344.50,1113.50 L350.50,1113.50 L350.50,1109.50 L356.50,1109.50 L356.50,1107.50 L362.50,1107.50 L362.50,1109.50 L368.50,1109.50 L368.50,1109.50 L374.50,1109.50 L374.50,1108.50 L379.50,1108.50 L379.50,1107.50 L385.50,1107.50 L385.50,1106.50 L391.50,1106.50 L391.50,1105.50 L397.50,1105.50 L397.50,1101.50 L403.50,1101.50 L403.50,1104.50 L408.50,1104.50 L408.50,1105.50 L414.50,1105.50 L414.50,1105.50 L420.50,1105.50 L420.50,1103.50 L426.50,1103.50 L426.50,1105.50 L432.50,1105.50 L432.50,1103.50 L437.50,1103.50 L437.50,1105.50 L443.50,1105.50 L443.50,1103.50 L449.50,1103.50 L449.50,1103.50 L455.50,1103.50 L455.50,1102.50 L461.50,1102.50 L461.50,1103.50 L467.50,1103.50 L467.50,1101.50 L472.50,1101.50 L472.50,1103.50 L478.50,1103.50 L478.50,1101.50 L484.50,1101.50 L484.50,1102.50 L490.50,1102.50 L490.50,1104.50 L496.50,1104.50 L496.50,1102.50 L501.50,1102.50 L501.50,1101.50 L507.50,1101.50 L507.50,1102.50 L513.50,1102.50 L513.50,1101.50 L519.50,1101.50 L519.50,1103.50 L525.50,1103.50 L525.50,1100.50 L530.50,1100.50 L530.50,1100.50 L536.50,1100.50 L536.50,1100.50 L542.50,1100.50 L542.50,1098.50 L548.50,1098.50 L548.50,1100.50 L554.50,1100.50 L554.50,1100.50 L560.50,1100.50 L560.50,1101.50 L565.50,1101.50 L565.50,1100.50 L571.50,1100.50 L571.50,1101.50 L577.50,1101.50 L577.50,1098.50 L583.50,1098.50 L583.50,1100.50 L589.50,1100.50 L589.50,1099.50 L594.50,1099.50 L594.50,1097.50 L600.50,1097.50 L600.50,1099.50 L606.50,1099.50 L606.50,1099.50 L612.50,1099.50 L612.50,1097.50 L618.50,1097.50 L618.50,1099.50 L623.50,1099.50 L623.50,1098.50 L629.50,1098.50 L629.50,1099.50 L635.50,1099.50 L635.50,1100.50 L641.50,1100.50 L641.50,1098.50 L647.50,1098.50 L647.50,1097.50 L653.50,1097.50 L653.50,1099.50 L658.50,1099.50 L658.50,1099.50 L664.50,1099.50 L664.50,1099.50 L670.50,1099.50 L670.50,1101.50 L676.50,1101.50 L676.50,1099.50 L682.50,1099.50 L682.50,1099.50 L687.50,1099.50 L687.50,1098.50 L693.50,1098.50 L693.50,1098.50 L699.50,1098.50 L699.50,1099.50 L705.50,1099.50 L705.50,1096.50 L711.50,1096.50 L711.50,1098.50 L716.50,1098.50 L716.50,1097.50 L722.50,1097.50 L722.50,1097.50 L728.50,1097.50 L728.50,1097.50 L734.50,1097.50 L734.50,1097.50 L740.50,1097.50 L740.50,1096.50 L746.50,1096.50 L746.50,1096.50 L751.50,1096.50 L751.50,1097.50 L757.50,1097.50 L757.50,1097.50 L763.50,1097.50 L763.50,1097.50 L769.50,1097.50 L769.50,1096.50 L775.50,1096.50 L775.50,1096.50 L780.50,1096.50 L780.50,1095.50 L786.50,1095.50 L786.50,1095.50 L792.50,1095.50 L792.50,1095.50 L798.50,1095.50 L798.50,1093.50 L804.50,1093.50 L804.50,1095.50 L809.50,1095.50 L809.50,1094.50 L815.50,1094.50 L815.50,1094.50 L821.50,1094.50 L821.50,1094.50 L827.50,1094.50 L827.50,1094.50 L833.50,1094.50 L833.50,1091.50 L839.50,1091.50 L839.50,1092.50 L844.50,1092.50 L844.50,1094.50 L850.50,1094.50 L850.50,1093.50 L856.50,1093.50 L856.50,1093.50 L862.50,1093.50 L862.50,1091.50 L868.50,1091.50 L868.50,1090.50 L873.50,1090.50 L873.50,1091.50 L879.50,1091.50 L879.50,1090.50 L885.50,1090.50 L885.50,1091.50 L891.50,1091.50 L891.50,1090.50 L897.50,1090.50 L897.50,1088.50 L902.50,1088.50 L902.50,1089.50 L908.50,1089.50 L908.50,1090.50 L914.50,1090.50 L914.50,1087.50 L920.50,1087.50 L920.50,1087.50 L926.50,1087.50 L926.50,1086.50 L932.50,1086.50 L932.50,1086.50 L937.50,1086.50 L937.50,1087.50 L943.50,1087.50 L943.50,1088.50 L949.50,1088.50 L949.50,1084.50 L955.50,1084.50 L955.50,1085.50 L961.50,1085.50 L961.50,1086.50 L966.50,1086.50 L966.50,1085.50 L972.50,1085.50 L972.50,1082.50 L978.50,1082.50 L978.50,1083.50 L984.50,1083.50 L984.50,1082.50 L990.50,1082.50 L990.50,1080.50 L995.50,1080.50 L995.50,1081.50 L1001.50,1081.50 L1001.50,1081.50 L1007.50,1081.50 L1007.50,1080.50 L1013.50,1080.50 L1013.50,1080.50 L1019.50,1080.50 L1019.50,1078.50 L1025.50,1078.50 L1025.50,1078.50 L1030.50,1078.50 L1030.50,1076.50 L1036.50,1076.50 L1036.50,1076.50 L1042.50,1076.50 L1042.50,1074.50 L1048.50,1074.50 L1048.50,1073.50 L1054.50,1073.50 L1054.50,1071.50 L1059.50,1071.50 L1059.50,1070.50 L1065.50,1070.50 L1065.50,1071.50 L1071.50,1071.50 L1071.50,1070.50 L1077.50,1070.50 L1077.50,1070.50 L1083.50,1070.50 L1083.50,1068.50 L1089.50,1068.50 L1089.50,1067.50 L1094.50,1067.50 L1094.50,1068.50 L1100.50,1068.50 L1100.50,1066.50 L1106.50,1066.50 L1106.50,1067.50 L1112.50,1067.50 L1112.50,1066.50 L1118.50,1066.50 L1118.50,1065.50 L1123.50,1065.50 L1123.50,1064.50 L1129.50,1064.50 L1129.50,1063.50 L1135.50,1063.50 L1135.50,1065.50 L1141.50,1065.50 L1141.50,1063.50 L1147.50,1063.50 L1147.50,1062.50 L1152.50,1062.50 L1152.50,1062.50 L1158.50,1062.50 L1158.50,1060.50 L1164.50,1060.50 L1164.50,1058.50 L1170.50,1058.50 L1170.50,1056.50 L1176.50,1056.50 L1176.50,1057.50 L1182.50,1057.50 L1182.50,1058.50 L1187.50,1058.50 L1187.50,1057.50 L1193.50,1057.50 L1193.50,1056.50 L1199.50,1056.50 L1199.50,1056.50 L1205.50,1056.50 L1205.50,1055.50 L1211.50,1055.50 L1211.50,1053.50 L1216.50,1053.50 L1216.50,1054.50 L1222.50,1054.50 L1222.50,1057.50 L1228.50,1057.50 L1228.50,1061.50 L1234.50,1061.50 L1234.50,1069.50 L1240.50,1069.50 L1240.50,1088.50 L1245.50,1088.50 L1245.50,1112.50 L1251.50,1112.50 L1251.50,1136.50 L1257.50,1136.50 L1257.50,1155.50 L1263.50,1155.50 L1263.50,1164.50 L1269.50,1164.50 L1269.50,1170.50 L1275.50,1170.50 L1275.50,1174.50 L1280.50,1174.50 L1280.50,1176.50 L1286.50,1176.50 L1286.50,1178.50 L1292.50,1178.50 L1292.50,1180.50 L1298.50,1180.50 L1298.50,1180.50 L1304.50,1180.50 L1304.50,1181.50 L1309.50,1181.50 L1309.50,1182.50 L1315.50,1182.50 L1315.50,1182.50 L1321.50,1182.50 L1321.50,1182.50 L1327.50,1182.50 L1327.50,1183.50 L1333.50,1183.50 L1333.50,1183.50 L1338.50,1183.50 L1338.50,1184.50 L1344.50,1184.50 L1344.50,1184.50 L1350.50,1184.50 L1350.50,1184.50 L1356.50,1184.50 L1356.50,1200.50" stroke="#bf00bf" stroke-width="4.86"/>
<path d="M193.00,1200.00 L193.00,1200.00 L199.00,1200.00 L199.00,1200.00 L205.00,1200.00 L205.00,1200.00 L211.00,1200.00 L211.00,1200.00 L217.00,1200.00 L217.00,1200.00 L222.00,1200.00 L222.00,1200.00 L228.00,1200.00 L228.00,1200.00 L234.00,1200.00 L234.00,1200.00 L240.00,1200.00 L240.00,1200.00 L246.00,1200.00 L246.00,1200.00 L251.00,1200.00 L251.00,1200.00 L257.00,1200.00 L257.00,1200.00 L263.00,1200.00 L263.00,1200.00 L269.00,1200.00 L269.00,1200.00 L275.00,1200.00 L275.00,1200.00 L280.00,1200.00 L280.00,1200.00 L286.00,1200.00 L286.00,1200.00 L292.00,1200.00 L292.00,1200.00 L298.00,1200.00 L298.00,1200.00 L304.00,1200.00 L304.00,1199.00 L310.00,1199.00 L310.00,1196.00 L315.00,1196.00 L315.00,1186.00 L321.00,1186.00 L321.00,1184.00 L327.00,1184.00 L327.00,1178.00 L333.00,1178.00 L333.00,1178.00 L339.00,1178.00 L339.00,1185.00 L344.00,1185.00 L344.00,1186.00 L350.00,1186.00 L350.00,1194.00 L356.00,1194.00 L356.00,1196.00 L362.00,1196.00 L362.00,1197.00 L368.00,1197.00 L368.00,1197.00 L374.00,1197.00 L374.00,1197.00 L379.00,1197.00 L379.00,1198.00 L385.00,1198.00 L385.00,1198.00 L391.00,1198.00 L391.00,1198.00 L397.00,1198.00 L397.00,1198.00 L403.00,1198.00 L403.00,1198.00 L408.00,1198.00 L408.00,1198.00 L414.00,1198.00 L414.00,1199.00 L420.00,1199.00 L420.00,1199.00 L426.00,1199.00 L426.00,1199.00 L432.00,1199.00 L432.00,1199.00 L437.00,1199.00 L437.00,1199.00 L443.00,1199.00 L443.00,1199.00 L449.00,1199.00 L449.00,1199.00 L455.00,1199.00 L455.00,1200.00 L461.00,1200.00 L461.00,1200.00 L467.00,1200.00 L467.00,1200.00 L472.00,1200.00 L472.00,1200.00 L478.00,1200.00 L478.00,1200.00 L484.00,1200.00 L484.00,1200.00 L490.00,1200.00 L490.00,1200.00 L496.00,1200.00 L496.00,1200.00 L501.00,1200.00 L501.00,1200.00 L507.00,1200.00 L507.00,1200.00 L513.00,1200.00 L513.00,1200.00 L519.00,1200.00 L519.00,1200.00 L525.00,1200.00 L525.00,1200.00 L530.00,1200.00 L530.00,1200.00 L536.00,1200.00 L536.00,1200.00 L542.00,1200.00 L542.00,1200.00 L548.00,1200.00 L548.00,1200.00 L554.00,1200.00 L554.00,1200.00 L560.00,1200.00 L560.00,1200.00 L565.00,1200.00 L565.00,1200.00 L571.00,1200.00 L571.00,1200.00 L577.00,1200.00 L577.00,1200.00 L583.00,1200.00 L583.00,1200.00 L589.00,1200.00 L589.00,1200.00 L594.00,1200.00 L594.00,1200.00 L600.00,1200.00 L600.00,1200.00 L606.00,1200.00 L606.00,1200.00 L612.00,1200.00 L612.00,1200.00 L618.00,1200.00 L618.00,1200.00 L623.00,1200.00 L623.00,1200.00 L629.00,1200.00 L629.00,1200.00 L635.00,1200.00 L635.00,1200.00 L641.00,1200.00 L641.00,1200.00 L647.00,1200.00 L647.00,1200.00 L653.00,1200.00 L653.00,1200.00 L658.00,1200.00 L658.00,1200.00 L664.00,1200.00 L664.00,1200.00 L670.00,1200.00 L670.00,1200.00 L676.00,1200.00 L676.00,1200.00 L682.00,1200.00 L682.00,1200.00 L687.00,1200.00 L687.00,1200.00 L693.00,1200.00 L693.00,1200.00 L699.00,1200.00 L699.00,1200.00 L705.00,1200.00 L705.00,1200.00 L711.00,1200.00 L711.00,1200.00 L716.00,1200.00 L716.00,1200.00 L722.00,1200.00 L722.00,1200.00 L728.00,1200.00 L728.00,1200.00 L734.00,1200.00 L734.00,1200.00 L740.00,1200.00 L740.00,1200.00 L746.00,1200.00 L746.00,1200.00 L751.00,1200.00 L751.00,1200.00 L757.00,1200.00 L757.00,1200.00 L763.00,1200.00 L763.00,1200.00 L769.00,1200.00 L769.00,1200.00 L775.00,1200.00 L775.00,1200.00 L780.00,1200.00 L780.00,1200.00 L786.00,1200.00 L786.00,1200.00 L792.00,1200.00 L792.00,1200.00 L798.00,1200.00 L798.00,1200.00 L804.00,1200.00 L804.00,1200.00 L809.00,1200.00 L809.00,1200.00 L815.00,1200.00 L815.00,1200.00 L821.00,1200.00 L821.00,1200.00 L827.00,1200.00 L827.00,1200.00 L833.00,1200.00 L833.00,1200.00 L839.00,1200.00 L839.00,1200.00 L844.00,1200.00 L844.00,1200.00 L850.00,1200.00 L850.00,1200.00 L856.00,1200.00 L856.00,1200.00 L862.00,1200.00 L862.00,1200.00 L868.00,1200.00 L868.00,1200.00 L873.00,1200.00 L873.00,1200.00 L879.00,1200.00 L879.00,1200.00 L885.00,1200.00 L885.00,1200.00 L891.00,1200.00 L891.00,1200.00 L897.00,1200.00 L897.00,1200.00 L902.00,1200.00 L902.00,1200.00 L908.00,1200.00 L908.00,1200.00 L914.00,1200.00 L914.00,1200.00 L920.00,1200.00 L920.00,1200.00 L926.00,1200.00 L926.00,1200.00 L932.00,1200.00 L932.00,1200.00 L937.00,1200.00 L937.00,1200.00 L943.00,1200.00 L943.00,1200.00 L949.00,1200.00 L949.00,1200.00 L955.00,1200.00 L955.00,1200.00 L961.00,1200.00 L961.00,1200.00 L966.00,1200.00 L966.00,1200.00 L972.00,1200.00 L972.00,1200.00 L978.00,1200.00 L978.00,1200.00 L984.00,1200.00 L984.00,1200.00 L990.00,1200.00 L990.00,1200.00 L995.00,1200.00 L995.00,1200.00 L1001.00,1200.00 L1001.00,1200.00 L1007.00,1200.00 L1007.00,1200.00 L1013.00,1200.00 L1013.00,1200.00 L1019.00,1200.00 L1019.00,1200.00 L1025.00,1200.00 L1025.00,1200.00 L1030.00,1200.00 L1030.00,1200.00 L1036.00,1200.00 L1036.00,1200.00 L1042.00,1200.00 L1042.00,1200.00 L1048.00,1200.00 L1048.00,1200.00 L1054.00,1200.00 L1054.00,1200.00 L1059.00,1200.00 L1059.00,1200.00 L1065.00,1200.00 L1065.00,1200.00 L1071.00,1200.00 L1071.00,1200.00 L1077.00,1200.00 L1077.00,1200.00 L1083.00,1200.00 L1083.00,1200.00 L1089.00,1200.00 L1089.00,1200.00 L1094.00,1200.00 L1094.00,1200.00 L1100.00,1200.00 L1100.00,1200.00 L1106.00,1200.00 L1106.00,1200.00 L1112.00,1200.00 L1112.00,1200.00 L1118.00,1200.00 L1118.00,1200.00 L1123.00,1200.00 L1123.00,1200.00 L1129.00,1200.00 L1129.00,1200.00 L1135.00,1200.00 L1135.00,1200.00 L1141.00,1200.00 L1141.00,1200.00 L1147.00,1200.00 L1147.00,1200.00 L1152.00,1200.00 L1152.00,1200.00 L1158.00,1200.00 L1158.00,1200.00 L1164.00,1200.00 L1164.00,1200.00 L1170.00,1200.00 L1170.00,1200.00 L1176.00,1200.00 L1176.00,1200.00 L1182.00,1200.00 L1182.00,1200.00 L1187.00,1200.00 L1187.00,1200.00 L1193.00,1200.00 L1193.00,1199.00 L1199.00,1199.00 L1199.00,1198.00 L1205.00,1198.00 L1205.00,1195.00 L1211.00,1195.00 L1211.00,1194.00 L1216.00,1194.00 L1216.00,1191.00 L1222.00,1191.00 L1222.00,1186.00 L1228.00,1186.00 L1228.00,1174.00 L1234.00,1174.00 L1234.00,1170.00 L1240.00,1170.00 L1240.00,1168.00 L1245.00,1168.00 L1245.00,1175.00 L1251.00,1175.00 L1251.00,1190.00 L1257.00,1190.00 L1257.00,1191.00 L1263.00,1191.00 L1263.00,1195.00 L1269.00,1195.00 L1269.00,1198.00 L1275.00,1198.00 L1275.00,1199.00 L1280.00,1199.00 L1280.00,1199.00 L1286.00,1199.00 L1286.00,1200.00 L1292.00,1200.00 L1292.00,1200.00 L1298.00,1200.00 L1298.00,1200.00 L1304.00,1200.00 L1304.00,1200.00 L1309.00,1200.00 L1309.00,1200.00 L1315.00,1200.00 L1315.00,1200.00 L1321.00,1200.00 L1321.00,1200.00 L1327.00,1200.00 L1327.00,1200.00 L1333.00,1200.00 L1333.00,1200.00 L1338.00,1200.00 L1338.00,1200.00 L1344.00,1200.00 L1344.00,1200.00 L1350.00,1200.00 L1350.00,1200.00 L1356.00,1200.00 L1356.00,1200.00" stroke="#bf00bf" stroke-width="1.74"/>
<path d="M775.50,1200.5 V141.5" stroke="#808080" stroke-opacity="0.8" stroke-width="5.2" stroke-dasharray="5.2 8.6"/>
</g>
<path d="M193.50,1200.5 v12.15 M339.50,1200.5 v12.15 M484.50,1200.5 v12.15 M629.50,1200.5 v12.15 M775.50,1200.5 v12.15 M920.50,1200.5 v12.15 M1065.50,1200.5 v12.15 M1211.50,1200.5 v12.15 M1356.50,1200.5 v12.15 M201.50,141.5 v-12.15 M345.50,141.5 v-12.15 M488.50,141.5 v-12.15 M631.50,141.5 v-12.15 M775.50,141.5 v-12.15 M918.50,141.5 v-12.15 M1061.50,141.5 v-12.15 M1205.50,141.5 v-12.15 M1348.50,141.5 v-12.15 M193.5,1200.50 h-12.15 M193.5,1011.50 h-12.15 M193.5,822.50 h-12.15 M193.5,633.50 h-12.15 M193.5,444.50 h-12.15 M193.5,255.50 h-12.15" stroke="#000" stroke-width="3" fill="none"/>
<rect x="193.5" y="141.5" width="1163.0" height="1059.0" fill="none" stroke="#000" stroke-width="7" stroke-linejoin="miter"/>
<rect x="205.5" y="346.45" width="546.0" height="270.4" rx="6" ry="6" fill="#fff" fill-opacity="0.8" stroke="#cccccc" stroke-opacity="0.8" stroke-width="3.0"/>
<rect x="222.4" y="364.45" width="82.9" height="29.10" fill="none" stroke="#ff0000" stroke-width="5.1"/>
<rect x="222.4" y="430.65" width="82.9" height="29.60" fill="none" stroke="#000000" stroke-width="5.1"/>
<rect x="222.4" y="494.65" width="82.9" height="28.60" fill="none" stroke="#0000ff" stroke-width="5.1"/>
<rect x="222.4" y="560.65" width="82.9" height="28.80" fill="none" stroke="#bf00bf" stroke-width="5.1"/>
<rect x="577.7" y="158.9" width="394.1" height="77.9" rx="13.5" ry="13.5" fill="#fff" fill-opacity="0.8" stroke="#808080" stroke-width="3.4"/>
<path d="M681.70,52.20 L714.20,52.20" stroke="#000" stroke-width="3.0" fill="none"/>
<path d="M169.10,103.50 L200.50,103.50" stroke="#000" stroke-width="3.0" fill="none"/>
<path d="M313.10,103.50 L344.50,103.50" stroke="#000" stroke-width="3.0" fill="none"/>
<path d="M456.10,103.50 L487.50,103.50" stroke="#000" stroke-width="3.0" fill="none"/>
<path d="M599.10,103.50 L630.50,103.50" stroke="#000" stroke-width="3.0" fill="none"/>
<path d="M122.50,1249.70 L154.60,1249.70" stroke="#000" stroke-width="3.0" fill="none"/>
<path d="M281.60,1249.70 L313.80,1249.70" stroke="#000" stroke-width="3.0" fill="none"/>
<path d="M426.30,1249.70 L457.80,1249.70" stroke="#000" stroke-width="3.0" fill="none"/>
<path d="M571.20,1249.70 L602.70,1249.70" stroke="#000" stroke-width="3.0" fill="none"/>
<path d="M837.80,1293.40 L864.80,1293.40" stroke="#000" stroke-width="2.4" fill="none"/>
<path d="M424.90,379.20 L456.90,379.20" stroke="#000" stroke-width="2.2" fill="none"/>
<path d="M424.90,388.10 L456.90,388.10" stroke="#000" stroke-width="2.2" fill="none"/>
<path d="M424.90,444.60 L456.90,444.60" stroke="#000" stroke-width="2.2" fill="none"/>
<path d="M424.90,453.50 L456.90,453.50" stroke="#000" stroke-width="2.2" fill="none"/>
<path d="M424.90,508.60 L456.90,508.60" stroke="#000" stroke-width="2.2" fill="none"/>
<path d="M424.90,517.50 L456.90,517.50" stroke="#000" stroke-width="2.2" fill="none"/>
<path d="M424.90,575.20 L456.90,575.20" stroke="#000" stroke-width="2.2" fill="none"/>
<path d="M424.90,584.10 L456.90,584.10" stroke="#000" stroke-width="2.2" fill="none"/>
<path d="M623.70,404.30 L640.00,363.00" stroke="#000" stroke-width="2.3" fill="none"/>
<path d="M607.10,437.60 L629.00,437.60" stroke="#000" stroke-width="2.2" fill="none"/>
<path d="M475.60,512.90 L505.30,512.90" stroke="#000" stroke-width="2.5" fill="none"/>
<path d="M660.60,533.70 L677.60,492.40" stroke="#000" stroke-width="2.3" fill="none"/>
<path d="M475.60,579.50 L505.30,579.50" stroke="#000" stroke-width="2.5" fill="none"/>
<path d="M690.90,568.20 L713.30,568.20" stroke="#000" stroke-width="2.2" fill="none"/>
<path d="M330.30,741.60 L353.80,741.60" stroke="#000" stroke-width="2.2" fill="none"/>
<path d="M342.05,723.90 L342.05,741.60" stroke="#000" stroke-width="2.2" fill="none"/>
<path d="M489.00,715.60 L511.20,715.60" stroke="#000" stroke-width="2.2" fill="none"/>
<path d="M330.30,874.40 L353.80,874.40" stroke="#000" stroke-width="2.2" fill="none"/>
<path d="M342.05,856.70 L342.05,874.40" stroke="#000" stroke-width="2.2" fill="none"/>
<path d="M489.00,848.40 L511.20,848.40" stroke="#000" stroke-width="2.2" fill="none"/>
<path d="M404.10,712.20 L376.00,726.20 L404.10,740.20" stroke="#000" stroke-width="2.3" fill="none" stroke-linejoin="miter" stroke-linecap="butt"/>
<path d="M404.10,845.00 L376.00,859.00 L404.10,873.00" stroke="#000" stroke-width="2.3" fill="none" stroke-linejoin="miter" stroke-linecap="butt"/>
<path d="M643.70,32.92 C645.66,32.52 649.57,32.52 651.04,33.70 L664.74,62.86 L664.44,63.84 L658.57,63.84 L653.97,52.78 L642.23,63.54 C640.76,65.01 638.32,64.81 637.83,63.05 C637.63,61.59 638.32,60.61 639.30,59.63 L652.02,48.57 L647.61,37.12 C646.83,35.17 645.66,33.70 643.70,33.50 Z" fill="#000"/>
<path d="M736.70,32.92 C738.66,32.52 742.57,32.52 744.04,33.70 L757.74,62.86 L757.44,63.84 L751.57,63.84 L746.97,52.78 L735.23,63.54 C733.76,65.01 731.32,64.81 730.83,63.05 C730.63,61.59 731.32,60.61 732.30,59.63 L745.02,48.57 L740.61,37.12 C739.83,35.17 738.66,33.70 736.70,33.50 Z" fill="#000"/>
<g opacity="0.999">
<text transform="matrix(0.3186,0.0000,0.0000,0.3116,759.60,70.36)" font-size="100" style="font-family:'Liberation Serif',serif;font-weight:bold;stroke:#fff;stroke-width:1.3;font-kerning:none;white-space:pre" xml:space="preserve">L</text>
<text transform="matrix(0.4298,0.0000,0.0000,0.2924,780.06,69.96)" font-size="100" style="font-family:'Liberation Serif',serif;font-weight:bold;stroke:#fff;stroke-width:1.3;font-kerning:none;white-space:pre" xml:space="preserve">y</text>
<text transform="matrix(0.4336,0.0000,0.0000,0.3000,802.83,70.55)" font-size="100" style="font-family:'Liberation Serif',serif;font-weight:bold;font-style:italic;stroke:#fff;stroke-width:1.3;font-kerning:none;white-space:pre" xml:space="preserve">α</text>
<text transform="matrix(0.4075,0.0000,0.0000,0.4892,846.15,64.97)" font-size="100" style="font-family:'Liberation Sans',sans-serif;font-kerning:none;white-space:pre" xml:space="preserve">(</text>
<text transform="matrix(0.3939,0.0000,0.0000,0.4368,864.60,64.20)" font-size="100" style="font-family:'Liberation Sans',sans-serif;font-kerning:none;white-space:pre" xml:space="preserve">Å</text>
<text transform="matrix(0.4346,0.0000,0.0000,0.4892,894.67,64.97)" font-size="100" style="font-family:'Liberation Sans',sans-serif;font-kerning:none;white-space:pre" xml:space="preserve">)</text>
<text transform="matrix(0.5077,0.0000,0.0000,0.4465,205.08,115.22)" font-size="100" style="font-family:'Liberation Serif',serif;font-weight:bold;stroke:#fff;stroke-width:1.3;font-kerning:none;white-space:pre" xml:space="preserve">4</text>
<text transform="matrix(0.5301,0.0000,0.0000,0.4364,348.31,114.78)" font-size="100" style="font-family:'Liberation Serif',serif;font-weight:bold;stroke:#fff;stroke-width:1.3;font-kerning:none;white-space:pre" xml:space="preserve">3</text>
<text transform="matrix(0.5350,0.0000,0.0000,0.4431,491.02,115.22)" font-size="100" style="font-family:'Liberation Serif',serif;font-weight:bold;stroke:#fff;stroke-width:1.3;font-kerning:none;white-space:pre" xml:space="preserve">2</text>
<text transform="matrix(0.5042,0.0000,0.0000,0.4431,634.31,115.22)" font-size="100" style="font-family:'Liberation Serif',serif;font-weight:bold;stroke:#fff;stroke-width:1.3;font-kerning:none;white-space:pre" xml:space="preserve">1</text>
<text transform="matrix(0.5366,0.0000,0.0000,0.4391,759.49,108.38)" font-size="100" style="font-family:'Liberation Serif',serif;font-weight:bold;stroke:#fff;stroke-width:1.3;font-kerning:none;white-space:pre" xml:space="preserve">0</text>
<text transform="matrix(0.5127,0.0000,0.0000,0.4431,901.24,109.02)" font-size="100" style="font-family:'Liberation Serif',serif;font-weight:bold;stroke:#fff;stroke-width:1.3;font-kerning:none;white-space:pre" xml:space="preserve">1</text>
<text transform="matrix(0.5200,0.0000,0.0000,0.4431,1046.50,109.02)" font-size="100" style="font-family:'Liberation Serif',serif;font-weight:bold;stroke:#fff;stroke-width:1.3;font-kerning:none;white-space:pre" xml:space="preserve">2</text>
<text transform="matrix(0.5301,0.0000,0.0000,0.4424,1189.01,108.78)" font-size="100" style="font-family:'Liberation Serif',serif;font-weight:bold;stroke:#fff;stroke-width:1.3;font-kerning:none;white-space:pre" xml:space="preserve">3</text>
<text transform="matrix(0.4945,0.0000,0.0000,0.4465,1334.21,109.02)" font-size="100" style="font-family:'Liberation Serif',serif;font-weight:bold;stroke:#fff;stroke-width:1.3;font-kerning:none;white-space:pre" xml:space="preserve">4</text>
<text transform="matrix(0.5070,0.0000,0.0000,0.4436,158.39,1261.28)" font-size="100" style="font-family:'Liberation Serif',serif;font-weight:bold;stroke:#fff;stroke-width:1.3;font-kerning:none;white-space:pre" xml:space="preserve">1000</text>
<text transform="matrix(0.4971,0.0000,0.0000,0.4436,318.57,1261.28)" font-size="100" style="font-family:'Liberation Serif',serif;font-weight:bold;stroke:#fff;stroke-width:1.3;font-kerning:none;white-space:pre" xml:space="preserve">750</text>
<text transform="matrix(0.5014,0.0000,0.0000,0.4436,462.54,1261.28)" font-size="100" style="font-family:'Liberation Serif',serif;font-weight:bold;stroke:#fff;stroke-width:1.3;font-kerning:none;white-space:pre" xml:space="preserve">500</text>
<text transform="matrix(0.5082,0.0000,0.0000,0.4436,606.56,1261.28)" font-size="100" style="font-family:'Liberation Serif',serif;font-weight:bold;stroke:#fff;stroke-width:1.3;font-kerning:none;white-space:pre" xml:space="preserve">250</text>
<text transform="matrix(0.5146,0.0000,0.0000,0.4466,760.48,1255.48)" font-size="100" style="font-family:'Liberation Serif',serif;font-weight:bold;stroke:#fff;stroke-width:1.3;font-kerning:none;white-space:pre" xml:space="preserve">0</text>
<text transform="matrix(0.5032,0.0000,0.0000,0.4451,879.18,1255.48)" font-size="100" style="font-family:'Liberation Serif',serif;font-weight:bold;stroke:#fff;stroke-width:1.3;font-kerning:none;white-space:pre" xml:space="preserve">250</text>
<text transform="matrix(0.5071,0.0000,0.0000,0.4451,1024.72,1255.48)" font-size="100" style="font-family:'Liberation Serif',serif;font-weight:bold;stroke:#fff;stroke-width:1.3;font-kerning:none;white-space:pre" xml:space="preserve">500</text>
<text transform="matrix(0.5050,0.0000,0.0000,0.4451,1170.72,1255.48)" font-size="100" style="font-family:'Liberation Serif',serif;font-weight:bold;stroke:#fff;stroke-width:1.3;font-kerning:none;white-space:pre" xml:space="preserve">750</text>
<text transform="matrix(0.5112,0.0000,0.0000,0.4451,1300.55,1255.48)" font-size="100" style="font-family:'Liberation Serif',serif;font-weight:bold;stroke:#fff;stroke-width:1.3;font-kerning:none;white-space:pre" xml:space="preserve">1000</text>
<text transform="matrix(0.5108,0.0000,0.0000,0.4511,76.40,1215.27)" font-size="100" style="font-family:'Liberation Serif',serif;font-weight:bold;stroke:#fff;stroke-width:1.3;font-kerning:none;white-space:pre" xml:space="preserve">0.00</text>
<text transform="matrix(0.5119,0.0000,0.0000,0.4511,76.40,1026.27)" font-size="100" style="font-family:'Liberation Serif',serif;font-weight:bold;stroke:#fff;stroke-width:1.3;font-kerning:none;white-space:pre" xml:space="preserve">0.01</text>
<text transform="matrix(0.5124,0.0000,0.0000,0.4511,76.39,837.27)" font-size="100" style="font-family:'Liberation Serif',serif;font-weight:bold;stroke:#fff;stroke-width:1.3;font-kerning:none;white-space:pre" xml:space="preserve">0.02</text>
<text transform="matrix(0.5093,0.0000,0.0000,0.4511,76.41,648.27)" font-size="100" style="font-family:'Liberation Serif',serif;font-weight:bold;stroke:#fff;stroke-width:1.3;font-kerning:none;white-space:pre" xml:space="preserve">0.03</text>
<text transform="matrix(0.5048,0.0000,0.0000,0.4511,76.43,459.27)" font-size="100" style="font-family:'Liberation Serif',serif;font-weight:bold;stroke:#fff;stroke-width:1.3;font-kerning:none;white-space:pre" xml:space="preserve">0.04</text>
<text transform="matrix(0.5108,0.0000,0.0000,0.4511,76.40,270.27)" font-size="100" style="font-family:'Liberation Serif',serif;font-weight:bold;stroke:#fff;stroke-width:1.3;font-kerning:none;white-space:pre" xml:space="preserve">0.05</text>
<text transform="matrix(0.5663,0.0000,0.0000,0.4387,646.33,1316.08)" font-size="100" style="font-family:'Liberation Serif',serif;font-weight:bold;font-style:italic;stroke:#fff;stroke-width:1.3;font-kerning:none;white-space:pre" xml:space="preserve">υ</text>
<text transform="matrix(0.4206,0.0000,0.0000,0.3000,673.16,1322.95)" font-size="100" style="font-family:'Liberation Serif',serif;font-weight:bold;font-style:italic;stroke:#fff;stroke-width:1.3;font-kerning:none;white-space:pre" xml:space="preserve">α</text>
<text transform="matrix(0.3818,0.0000,0.0000,0.5422,718.14,1319.88)" font-size="100" style="font-family:'Liberation Serif',serif;font-weight:normal;font-kerning:none;white-space:pre" xml:space="preserve">[</text>
<text transform="matrix(0.4936,0.0000,0.0000,0.4603,729.92,1316.13)" font-size="100" style="font-family:'Liberation Serif',serif;font-weight:bold;stroke:#fff;stroke-width:1.3;font-kerning:none;white-space:pre" xml:space="preserve">km</text>
<text transform="matrix(0.5231,0.0000,0.0000,0.4383,813.67,1316.38)" font-size="100" style="font-family:'Liberation Serif',serif;font-weight:bold;stroke:#fff;stroke-width:1.3;font-kerning:none;white-space:pre" xml:space="preserve">s</text>
<text transform="matrix(0.3465,0.0000,0.0000,0.2862,866.15,1300.34)" font-size="100" style="font-family:'Liberation Serif',serif;font-weight:bold;stroke:#fff;stroke-width:1.3;font-kerning:none;white-space:pre" xml:space="preserve">1</text>
<text transform="matrix(0.3733,0.0000,0.0000,0.5422,885.39,1319.88)" font-size="100" style="font-family:'Liberation Serif',serif;font-weight:normal;font-kerning:none;white-space:pre" xml:space="preserve">]</text>
<text transform="matrix(0.0000,-0.4086,0.4313,0.0000,55.07,793.97)" font-size="100" style="font-family:'Liberation Sans',sans-serif;font-kerning:none;white-space:pre" xml:space="preserve">Relative</text>
<text transform="matrix(0.0000,-0.4100,0.4313,0.0000,55.07,632.78)" font-size="100" style="font-family:'Liberation Sans',sans-serif;font-kerning:none;white-space:pre" xml:space="preserve">Flux</text>
<text transform="matrix(0.4491,0.0000,0.0000,0.5258,589.91,211.42)" font-size="100" style="font-family:'Liberation Sans',sans-serif;font-kerning:none;white-space:pre" xml:space="preserve">(</text>
<text transform="matrix(0.5733,0.0000,0.0000,0.4787,608.25,210.26)" font-size="100" style="font-family:'Liberation Serif',serif;font-weight:bold;font-style:italic;stroke:#fff;stroke-width:1.3;font-kerning:none;white-space:pre" xml:space="preserve">a</text>
<text transform="matrix(0.4731,0.0000,0.0000,0.5258,639.93,211.42)" font-size="100" style="font-family:'Liberation Sans',sans-serif;font-kerning:none;white-space:pre" xml:space="preserve">)</text>
<text transform="matrix(0.4147,0.0000,0.0000,0.4656,672.93,210.06)" font-size="100" style="font-family:'Liberation Sans',sans-serif;font-kerning:none;white-space:pre" xml:space="preserve">Galaxy</text>
<text transform="matrix(0.6239,0.0000,0.0000,0.6569,821.69,219.60)" font-size="100" style="font-family:'Liberation Sans',sans-serif;font-kerning:none;white-space:pre" xml:space="preserve">#</text>
<text transform="matrix(0.4276,0.0000,0.0000,0.4648,859.09,209.94)" font-size="100" style="font-family:'Liberation Sans',sans-serif;font-kerning:none;white-space:pre" xml:space="preserve">0001</text>
<text transform="matrix(0.5084,0.0000,0.0000,0.4108,336.47,394.29)" font-size="100" style="font-family:'Liberation Serif',serif;font-weight:bold;font-style:italic;stroke:#fff;stroke-width:1.3;font-kerning:none;white-space:pre" xml:space="preserve">υ</text>
<text transform="matrix(0.3813,0.0000,0.0000,0.2617,361.94,399.87)" font-size="100" style="font-family:'Liberation Serif',serif;font-weight:bold;font-style:italic;stroke:#fff;stroke-width:1.3;font-kerning:none;white-space:pre" xml:space="preserve">α</text>
<text transform="matrix(0.3943,0.0000,0.0000,0.2947,387.09,401.03)" font-size="100" style="font-family:'Liberation Serif',serif;font-weight:bold;font-style:italic;stroke:#fff;stroke-width:1.3;font-kerning:none;white-space:pre" xml:space="preserve">,</text>
<text transform="matrix(0.3565,0.0000,0.0000,0.2838,396.75,400.14)" font-size="100" style="font-family:'Liberation Serif',serif;font-weight:bold;font-style:italic;stroke:#fff;stroke-width:1.3;font-kerning:none;white-space:pre" xml:space="preserve">i</text>
<text transform="matrix(0.5084,0.0000,0.0000,0.4108,336.47,459.69)" font-size="100" style="font-family:'Liberation Serif',serif;font-weight:bold;font-style:italic;stroke:#fff;stroke-width:1.3;font-kerning:none;white-space:pre" xml:space="preserve">υ</text>
<text transform="matrix(0.3813,0.0000,0.0000,0.2617,361.94,465.27)" font-size="100" style="font-family:'Liberation Serif',serif;font-weight:bold;font-style:italic;stroke:#fff;stroke-width:1.3;font-kerning:none;white-space:pre" xml:space="preserve">α</text>
<text transform="matrix(0.3943,0.0000,0.0000,0.2947,387.09,466.43)" font-size="100" style="font-family:'Liberation Serif',serif;font-weight:bold;font-style:italic;stroke:#fff;stroke-width:1.3;font-kerning:none;white-space:pre" xml:space="preserve">,</text>
<text transform="matrix(0.3565,0.0000,0.0000,0.2838,396.75,465.54)" font-size="100" style="font-family:'Liberation Serif',serif;font-weight:bold;font-style:italic;stroke:#fff;stroke-width:1.3;font-kerning:none;white-space:pre" xml:space="preserve">i</text>
<text transform="matrix(0.5084,0.0000,0.0000,0.4108,336.47,523.69)" font-size="100" style="font-family:'Liberation Serif',serif;font-weight:bold;font-style:italic;stroke:#fff;stroke-width:1.3;font-kerning:none;white-space:pre" xml:space="preserve">υ</text>
<text transform="matrix(0.3813,0.0000,0.0000,0.2617,361.94,529.27)" font-size="100" style="font-family:'Liberation Serif',serif;font-weight:bold;font-style:italic;stroke:#fff;stroke-width:1.3;font-kerning:none;white-space:pre" xml:space="preserve">α</text>
<text transform="matrix(0.3943,0.0000,0.0000,0.2947,387.09,530.43)" font-size="100" style="font-family:'Liberation Serif',serif;font-weight:bold;font-style:italic;stroke:#fff;stroke-width:1.3;font-kerning:none;white-space:pre" xml:space="preserve">,</text>
<text transform="matrix(0.3565,0.0000,0.0000,0.2838,396.75,529.54)" font-size="100" style="font-family:'Liberation Serif',serif;font-weight:bold;font-style:italic;stroke:#fff;stroke-width:1.3;font-kerning:none;white-space:pre" xml:space="preserve">i</text>
<text transform="matrix(0.5084,0.0000,0.0000,0.4108,336.47,590.29)" font-size="100" style="font-family:'Liberation Serif',serif;font-weight:bold;font-style:italic;stroke:#fff;stroke-width:1.3;font-kerning:none;white-space:pre" xml:space="preserve">υ</text>
<text transform="matrix(0.3813,0.0000,0.0000,0.2617,361.94,595.87)" font-size="100" style="font-family:'Liberation Serif',serif;font-weight:bold;font-style:italic;stroke:#fff;stroke-width:1.3;font-kerning:none;white-space:pre" xml:space="preserve">α</text>
<text transform="matrix(0.3943,0.0000,0.0000,0.2947,387.09,597.03)" font-size="100" style="font-family:'Liberation Serif',serif;font-weight:bold;font-style:italic;stroke:#fff;stroke-width:1.3;font-kerning:none;white-space:pre" xml:space="preserve">,</text>
<text transform="matrix(0.3565,0.0000,0.0000,0.2838,396.75,596.14)" font-size="100" style="font-family:'Liberation Serif',serif;font-weight:bold;font-style:italic;stroke:#fff;stroke-width:1.3;font-kerning:none;white-space:pre" xml:space="preserve">i</text>
<text transform="matrix(0.4676,0.0000,0.0000,0.4120,471.36,394.49)" font-size="100" style="font-family:'Liberation Serif',serif;font-weight:bold;stroke:#fff;stroke-width:1.3;font-kerning:none;white-space:pre" xml:space="preserve">200</text>
<text transform="matrix(0.4524,0.0000,0.0000,0.4162,555.34,394.41)" font-size="100" style="font-family:'Liberation Serif',serif;font-weight:bold;stroke:#fff;stroke-width:1.3;font-kerning:none;white-space:pre" xml:space="preserve">km</text>
<text transform="matrix(0.4954,0.0000,0.0000,0.4106,643.37,394.49)" font-size="100" style="font-family:'Liberation Serif',serif;font-weight:bold;stroke:#fff;stroke-width:1.3;font-kerning:none;white-space:pre" xml:space="preserve">s</text>
<text transform="matrix(0.4756,0.0000,0.0000,0.4120,471.86,459.89)" font-size="100" style="font-family:'Liberation Serif',serif;font-weight:bold;stroke:#fff;stroke-width:1.3;font-kerning:none;white-space:pre" xml:space="preserve">0</text>
<text transform="matrix(0.4554,0.0000,0.0000,0.4162,509.13,459.81)" font-size="100" style="font-family:'Liberation Serif',serif;font-weight:bold;stroke:#fff;stroke-width:1.3;font-kerning:none;white-space:pre" xml:space="preserve">km</text>
<text transform="matrix(0.4954,0.0000,0.0000,0.4106,585.17,459.89)" font-size="100" style="font-family:'Liberation Serif',serif;font-weight:bold;stroke:#fff;stroke-width:1.3;font-kerning:none;white-space:pre" xml:space="preserve">s</text>
<text transform="matrix(0.3662,0.0000,0.0000,0.2646,630.79,444.73)" font-size="100" style="font-family:'Liberation Serif',serif;font-weight:bold;stroke:#fff;stroke-width:1.3;font-kerning:none;white-space:pre" xml:space="preserve">1</text>
<text transform="matrix(0.4627,0.0000,0.0000,0.4120,509.57,523.89)" font-size="100" style="font-family:'Liberation Serif',serif;font-weight:bold;stroke:#fff;stroke-width:1.3;font-kerning:none;white-space:pre" xml:space="preserve">400</text>
<text transform="matrix(0.4524,0.0000,0.0000,0.4162,592.74,523.81)" font-size="100" style="font-family:'Liberation Serif',serif;font-weight:bold;stroke:#fff;stroke-width:1.3;font-kerning:none;white-space:pre" xml:space="preserve">km</text>
<text transform="matrix(0.5015,0.0000,0.0000,0.4106,680.24,523.89)" font-size="100" style="font-family:'Liberation Serif',serif;font-weight:bold;stroke:#fff;stroke-width:1.3;font-kerning:none;white-space:pre" xml:space="preserve">s</text>
<text transform="matrix(0.4693,0.0000,0.0000,0.4120,508.62,590.49)" font-size="100" style="font-family:'Liberation Serif',serif;font-weight:bold;stroke:#fff;stroke-width:1.3;font-kerning:none;white-space:pre" xml:space="preserve">800</text>
<text transform="matrix(0.4524,0.0000,0.0000,0.4162,592.74,590.41)" font-size="100" style="font-family:'Liberation Serif',serif;font-weight:bold;stroke:#fff;stroke-width:1.3;font-kerning:none;white-space:pre" xml:space="preserve">km</text>
<text transform="matrix(0.5015,0.0000,0.0000,0.4106,669.04,590.49)" font-size="100" style="font-family:'Liberation Serif',serif;font-weight:bold;stroke:#fff;stroke-width:1.3;font-kerning:none;white-space:pre" xml:space="preserve">s</text>
<text transform="matrix(0.3408,0.0000,0.0000,0.2646,715.50,575.33)" font-size="100" style="font-family:'Liberation Serif',serif;font-weight:bold;stroke:#fff;stroke-width:1.3;font-kerning:none;white-space:pre" xml:space="preserve">1</text>
<text transform="matrix(0.4075,0.0000,0.0000,0.3878,204.08,669.61)" font-size="100" style="font-family:'Liberation Sans',sans-serif;font-kerning:none;white-space:pre" xml:space="preserve">Thick:</text>
<text transform="matrix(0.4138,0.0000,0.0000,0.3932,329.68,670.01)" font-size="100" style="font-family:'Liberation Sans',sans-serif;font-kerning:none;white-space:pre" xml:space="preserve">total</text>
<text transform="matrix(0.3720,0.0000,0.0000,0.4155,420.33,670.08)" font-size="100" style="font-family:'Liberation Sans',sans-serif;font-kerning:none;white-space:pre" xml:space="preserve">SED</text>
<text transform="matrix(0.4114,0.0000,0.0000,0.3972,204.57,804.00)" font-size="100" style="font-family:'Liberation Sans',sans-serif;font-kerning:none;white-space:pre" xml:space="preserve">Thin:</text>
<text transform="matrix(0.3602,0.0000,0.0000,0.3761,311.96,804.22)" font-size="100" style="font-family:'Liberation Sans',sans-serif;font-kerning:none;white-space:pre" xml:space="preserve">near-zone</text>
<text transform="matrix(0.3695,0.0000,0.0000,0.4225,486.74,804.18)" font-size="100" style="font-family:'Liberation Sans',sans-serif;font-kerning:none;white-space:pre" xml:space="preserve">SED</text>
<text transform="matrix(0.4784,0.0000,0.0000,0.4600,289.65,737.14)" font-size="100" style="font-family:'Liberation Serif',serif;font-weight:normal;font-kerning:none;white-space:pre" xml:space="preserve">(</text>
<text transform="matrix(0.5111,0.0000,0.0000,0.3957,306.47,736.60)" font-size="100" style="font-family:'Liberation Serif',serif;font-weight:bold;font-style:italic;stroke:#fff;stroke-width:1.3;font-kerning:none;white-space:pre" xml:space="preserve">r</text>
<text transform="matrix(0.4643,0.0000,0.0000,0.4195,420.84,736.69)" font-size="100" style="font-family:'Liberation Serif',serif;font-weight:bold;stroke:#fff;stroke-width:1.3;font-kerning:none;white-space:pre" xml:space="preserve">8</text>
<text transform="matrix(0.4936,0.0000,0.0000,0.4162,458.32,736.91)" font-size="100" style="font-family:'Liberation Serif',serif;font-weight:bold;font-style:italic;stroke:#fff;stroke-width:1.3;font-kerning:none;white-space:pre" xml:space="preserve">h</text>
<text transform="matrix(0.3296,0.0000,0.0000,0.2615,513.80,721.53)" font-size="100" style="font-family:'Liberation Serif',serif;font-weight:bold;stroke:#fff;stroke-width:1.3;font-kerning:none;white-space:pre" xml:space="preserve">1</text>
<text transform="matrix(0.4748,0.0000,0.0000,0.4211,546.81,736.27)" font-size="100" style="font-family:'Liberation Serif',serif;font-weight:bold;stroke:#fff;stroke-width:1.3;font-kerning:none;white-space:pre" xml:space="preserve">Mpc</text>
<text transform="matrix(0.4462,0.0000,0.0000,0.4600,639.06,737.14)" font-size="100" style="font-family:'Liberation Serif',serif;font-weight:normal;font-kerning:none;white-space:pre" xml:space="preserve">)</text>
<text transform="matrix(0.4784,0.0000,0.0000,0.4600,289.65,869.94)" font-size="100" style="font-family:'Liberation Serif',serif;font-weight:normal;font-kerning:none;white-space:pre" xml:space="preserve">(</text>
<text transform="matrix(0.5111,0.0000,0.0000,0.3957,306.47,869.40)" font-size="100" style="font-family:'Liberation Serif',serif;font-weight:bold;font-style:italic;stroke:#fff;stroke-width:1.3;font-kerning:none;white-space:pre" xml:space="preserve">r</text>
<text transform="matrix(0.4592,0.0000,0.0000,0.4215,420.60,869.41)" font-size="100" style="font-family:'Liberation Serif',serif;font-weight:bold;stroke:#fff;stroke-width:1.3;font-kerning:none;white-space:pre" xml:space="preserve">1</text>
<text transform="matrix(0.4936,0.0000,0.0000,0.4162,458.32,869.71)" font-size="100" style="font-family:'Liberation Serif',serif;font-weight:bold;font-style:italic;stroke:#fff;stroke-width:1.3;font-kerning:none;white-space:pre" xml:space="preserve">h</text>
<text transform="matrix(0.3296,0.0000,0.0000,0.2615,513.80,854.33)" font-size="100" style="font-family:'Liberation Serif',serif;font-weight:bold;stroke:#fff;stroke-width:1.3;font-kerning:none;white-space:pre" xml:space="preserve">1</text>
<text transform="matrix(0.4748,0.0000,0.0000,0.4211,546.81,869.07)" font-size="100" style="font-family:'Liberation Serif',serif;font-weight:bold;stroke:#fff;stroke-width:1.3;font-kerning:none;white-space:pre" xml:space="preserve">Mpc</text>
<text transform="matrix(0.4462,0.0000,0.0000,0.4600,639.06,869.94)" font-size="100" style="font-family:'Liberation Serif',serif;font-weight:normal;font-kerning:none;white-space:pre" xml:space="preserve">)</text>
</g>
</svg></body></html>
